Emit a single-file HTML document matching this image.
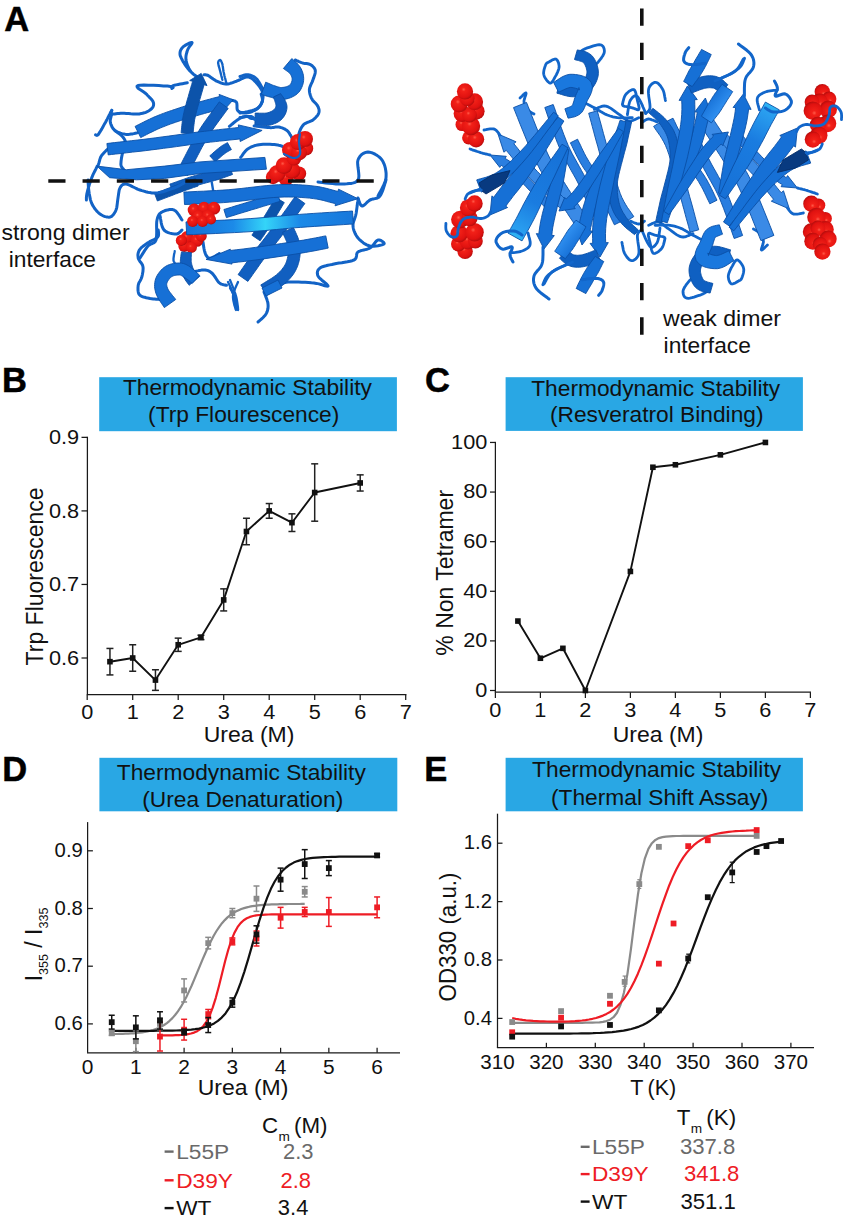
<!DOCTYPE html>
<html><head><meta charset="utf-8"><title>Figure</title>
<style>html,body{margin:0;padding:0;background:#fff;font-family:"Liberation Sans",sans-serif;}svg{display:block}</style></head>
<body>
<svg width="850" height="1221" viewBox="0 0 850 1221" font-family="Liberation Sans, sans-serif">
<rect width="850" height="1221" fill="#fff"/>
<text transform="translate(4.20,30.60) scale(1.0,1)" font-size="34.5" text-anchor="start" fill="#000" font-weight="bold" stroke="#000" stroke-width="0.5">A</text>
<text transform="translate(2.10,392.00) scale(1.0,1)" font-size="34.5" text-anchor="start" fill="#000" font-weight="bold" stroke="#000" stroke-width="0.5">B</text>
<text transform="translate(425.00,392.00) scale(1.0,1)" font-size="34.5" text-anchor="start" fill="#000" font-weight="bold" stroke="#000" stroke-width="0.5">C</text>
<text transform="translate(2.30,780.80) scale(1.0,1)" font-size="34.5" text-anchor="start" fill="#000" font-weight="bold" stroke="#000" stroke-width="0.5">D</text>
<text transform="translate(424.20,780.80) scale(1.0,1)" font-size="34.5" text-anchor="start" fill="#000" font-weight="bold" stroke="#000" stroke-width="0.5">E</text>
<defs>
<radialGradient id="rs" cx="0.42" cy="0.38" r="0.7"><stop offset="0" stop-color="#ff5a48"/><stop offset="0.18" stop-color="#f22018"/><stop offset="0.7" stop-color="#e01210"/><stop offset="1" stop-color="#a00a0a"/></radialGradient>
<linearGradient id="hl" x1="0" x2="1" y1="0" y2="0"><stop offset="0" stop-color="#1473d8"/><stop offset="0.25" stop-color="#1c8ae8"/><stop offset="0.38" stop-color="#30d0f8"/><stop offset="0.5" stop-color="#1c8ae8"/><stop offset="1" stop-color="#1473d8"/></linearGradient>
<linearGradient id="hl2" gradientUnits="userSpaceOnUse" x1="186" x2="375" y1="0" y2="0"><stop offset="0" stop-color="#1670d6"/><stop offset="0.25" stop-color="#1c8ae8"/><stop offset="0.42" stop-color="#34d4f8"/><stop offset="0.6" stop-color="#1c8ae8"/><stop offset="1" stop-color="#1670d6"/></linearGradient>
<linearGradient id="hl3" gradientUnits="userSpaceOnUse" x1="565" x2="512" y1="146" y2="240"><stop offset="0" stop-color="#1670d6"/><stop offset="0.6" stop-color="#1a7ce0"/><stop offset="0.9" stop-color="#2aa0f0"/><stop offset="1" stop-color="#34c8f8"/></linearGradient>
<linearGradient id="cyl" x1="0" x2="1" y1="0" y2="1"><stop offset="0" stop-color="#1670d6"/><stop offset="0.35" stop-color="#2f8ff0"/><stop offset="0.7" stop-color="#1670d6"/><stop offset="1" stop-color="#0f5cba"/></linearGradient>
</defs>
<path d="M200.0 79.0 L199.3 78.5 L198.3 77.8 L197.2 77.0 L195.9 76.1 L194.6 75.1 L193.3 74.1 L192.1 73.0 L191.0 72.0 L190.0 71.0 L189.0 69.9 L188.1 68.8 L187.2 67.6 L186.3 66.5 L185.5 65.3 L184.7 64.1 L184.0 63.0 L183.3 61.9 L182.6 60.7 L182.0 59.5 L181.4 58.4 L180.9 57.2 L180.4 56.1 L180.1 55.0 L180.0 54.0 L180.0 53.0 L180.1 52.1 L180.3 51.1 L180.7 50.2 L181.1 49.4 L181.7 48.5 L182.3 47.7 L183.0 47.0 L183.9 46.2 L185.1 45.4 L186.5 44.6 L188.0 43.8 L189.3 43.1 L190.6 42.6 L191.5 42.4 L192.0 42.4 L192.1 42.7 L191.8 43.4 L191.2 44.3 L190.5 45.3 L189.6 46.4 L188.8 47.6 L188.1 48.9 L187.6 50.0 L187.2 51.1 L186.9 52.3 L186.5 53.5 L186.2 54.8 L186.0 56.1 L185.9 57.4 L185.9 58.7 L186.0 60.0 L186.2 61.4 L186.6 62.8 L187.1 64.2 L187.6 65.7 L188.3 67.2 L188.9 68.5 L189.7 69.8 L190.4 71.0 L191.2 72.1 L192.3 73.1 L193.3 74.1 L194.5 75.0 L195.6 75.8 L196.6 76.5 L197.4 77.1 L198.0 77.6" fill="none" stroke="#1263c6" stroke-width="3.0" stroke-linecap="round" stroke-linejoin="round"/>
<path d="M222.4 79.8 L222.2 79.1 L222.0 78.2 L221.7 77.2 L221.4 76.1 L221.1 74.8 L220.8 73.6 L220.5 72.4 L220.2 71.3 L219.9 70.2 L219.6 69.0 L219.3 67.9 L218.9 66.7 L218.6 65.6 L218.4 64.5 L218.2 63.6 L218.1 62.8 L218.2 62.2 L218.4 61.6 L218.6 61.0 L218.9 60.6 L219.3 60.3 L219.6 60.1 L219.9 60.0 L220.2 60.0 L220.5 60.2 L220.8 60.5 L221.1 60.9 L221.3 61.4 L221.6 62.0 L221.9 62.7 L222.1 63.5 L222.4 64.2 L222.6 65.1 L222.7 66.0 L222.9 67.0 L223.0 68.0 L223.2 69.1 L223.3 70.3 L223.5 71.5 L223.8 72.7 L224.1 74.1 L224.4 75.6 L224.8 77.2 L225.3 78.9 L225.7 80.5 L226.0 81.9 L226.4 83.1 L226.6 84.0" fill="none" stroke="#1263c6" stroke-width="2.3" stroke-linecap="round" stroke-linejoin="round"/>
<path d="M204.0 74.8 L204.3 74.8 L204.7 74.8 L205.1 74.8 L205.6 74.8 L206.2 74.9 L206.8 75.0 L207.5 75.2 L208.2 75.5 L209.1 76.0 L210.0 76.7 L211.0 77.4 L212.1 78.2 L213.2 79.0 L214.4 79.8 L215.6 80.6 L216.7 81.2 L217.9 81.7 L219.1 82.2 L220.3 82.7 L221.6 83.1 L222.8 83.5 L224.1 83.8 L225.3 83.9 L226.6 84.0 L227.8 83.9 L229.0 83.7 L230.2 83.4 L231.4 83.0 L232.7 82.6 L233.9 82.1 L235.2 81.6 L236.5 81.2 L237.8 80.6 L239.3 80.0 L240.7 79.3 L242.2 78.5 L243.7 77.9 L245.1 77.3 L246.5 77.0 L247.8 76.9 L249.0 77.1 L250.1 77.6 L251.2 78.1 L252.3 78.9 L253.3 79.7 L254.3 80.6 L255.3 81.6 L256.2 82.6 L257.2 83.6 L258.1 84.8 L259.1 86.0 L260.0 87.3 L260.8 88.6 L261.5 89.9 L262.2 91.2 L262.6 92.5 L262.9 93.7 L263.0 95.0 L263.1 96.3 L263.0 97.6 L262.8 98.9 L262.6 100.1 L262.3 101.3 L261.9 102.4 L261.4 103.4 L260.9 104.4 L260.3 105.4 L259.6 106.3 L258.9 107.1 L258.1 108.0 L257.2 108.7 L256.2 109.4 L255.2 110.1 L254.0 110.7 L252.8 111.2 L251.5 111.8 L250.1 112.2 L248.8 112.5 L247.6 112.8 L246.4 112.9 L245.2 113.0 L244.0 113.0 L242.8 112.8 L241.6 112.6 L240.5 112.3 L239.5 111.9 L238.6 111.4 L237.9 110.8 L237.4 110.0 L237.1 109.0 L237.0 107.8 L237.0 106.6 L237.0 105.3 L236.9 104.2 L236.8 103.2 L236.5 102.4 L236.0 101.8 L235.4 101.3 L234.7 101.0 L233.9 100.8 L233.2 100.6 L232.5 100.5 L231.9 100.4 L231.5 100.2" fill="none" stroke="#1263c6" stroke-width="3.0" stroke-linecap="round" stroke-linejoin="round"/>
<path d="M187.3 82.8 L186.1 83.0 L184.5 83.3 L182.5 83.7 L180.3 84.1 L178.2 84.5 L176.1 84.9 L174.4 85.3 L173.2 85.6 L172.4 86.0 L171.9 86.5 L171.7 86.9 L171.7 87.4 L171.7 87.8 L171.8 88.1 L171.9 88.4 L171.8 88.5 L171.8 88.4 L172.1 88.3 L172.6 88.0 L173.0 87.6 L173.2 87.3 L172.9 86.9 L172.0 86.6 L170.4 86.4 L167.5 86.1 L163.5 85.9 L158.7 85.6 L153.5 85.3 L148.4 85.2 L143.9 85.1 L140.2 85.3 L137.9 85.6 L137.0 86.3 L137.2 87.1 L138.1 88.2 L139.6 89.3 L141.5 90.5 L143.4 91.8 L145.1 93.0 L146.4 94.1 L147.4 95.2 L148.5 96.3 L149.5 97.4 L150.6 98.4 L151.6 99.5 L152.4 100.6 L153.0 101.6 L153.4 102.6 L153.6 103.6 L153.6 104.5 L153.5 105.5 L153.2 106.4 L152.7 107.3 L152.1 108.1 L151.4 108.9 L150.6 109.6 L149.6 110.3 L148.5 111.0 L147.2 111.7 L145.8 112.3 L144.3 112.8 L142.7 113.2 L141.0 113.6 L139.3 113.9 L137.4 114.0 L135.3 114.0 L133.1 113.9 L130.8 113.8 L128.5 113.6 L126.3 113.4 L124.2 113.2 L122.4 113.2 L120.7 113.2 L119.0 113.4 L117.5 113.5 L116.0 113.7 L114.7 113.9 L113.5 114.0 L112.5 114.0 L111.8 113.9 L111.3 113.6 L111.0 113.2 L111.0 112.7 L111.1 112.2 L111.3 111.6 L111.5 111.1 L111.7 110.7 L111.8 110.4" fill="none" stroke="#1263c6" stroke-width="3.0" stroke-linecap="round" stroke-linejoin="round"/>
<path d="M111.8 110.4 L111.3 111.3 L110.6 112.5 L109.9 114.0 L109.0 115.6 L108.1 117.3 L107.2 119.1 L106.3 120.8 L105.4 122.4 L104.5 123.9 L103.6 125.6 L102.6 127.4 L101.7 129.1 L100.7 130.7 L99.8 132.2 L99.0 133.4 L98.4 134.4 L97.8 135.0 L97.3 135.3 L96.9 135.4 L96.5 135.3 L96.2 135.2 L95.9 135.0 L95.7 134.8 L95.5 134.8" fill="none" stroke="#1263c6" stroke-width="3.0" stroke-linecap="round" stroke-linejoin="round"/>
<path d="M111.8 113.9 L111.6 114.5 L111.4 115.4 L111.1 116.4 L110.8 117.6 L110.5 118.8 L110.3 120.0 L110.2 121.2 L110.4 122.4 L110.6 123.4 L111.0 124.6 L111.5 125.7 L112.0 126.9 L112.7 128.0 L113.5 129.1 L114.3 130.0 L115.3 130.8 L116.4 131.5 L117.7 132.2 L119.1 132.7 L120.6 133.2 L122.1 133.6 L123.7 133.9 L125.2 134.2 L126.6 134.4 L128.0 134.4 L129.5 134.3 L131.1 134.1 L132.6 133.9 L134.0 133.6 L135.3 133.3 L136.4 133.1 L137.2 132.9" fill="none" stroke="#1263c6" stroke-width="3.0" stroke-linecap="round" stroke-linejoin="round"/>
<path d="M115.3 130.8 L115.9 131.3 L116.6 131.8 L117.6 132.5 L118.6 133.3 L119.7 134.1 L120.7 134.9 L121.6 135.7 L122.4 136.5 L123.0 137.2 L123.6 138.0 L124.1 138.8 L124.6 139.6 L125.0 140.4 L125.3 141.1 L125.6 141.7 L125.9 142.1" fill="none" stroke="#1263c6" stroke-width="3.0" stroke-linecap="round" stroke-linejoin="round"/>
<path d="M125.2 142.1 L125.0 143.0 L124.6 144.2 L124.3 145.5 L123.9 147.1 L123.4 148.7 L123.0 150.3 L122.7 151.9 L122.4 153.4 L122.1 154.9 L121.8 156.4 L121.5 157.9 L121.3 159.5 L121.1 160.9 L121.0 162.3 L120.9 163.6 L120.9 164.7 L121.1 165.7 L121.4 166.5 L121.8 167.2 L122.3 167.9 L122.7 168.4 L123.2 168.9 L123.5 169.3 L123.8 169.7" fill="none" stroke="#1263c6" stroke-width="3.0" stroke-linecap="round" stroke-linejoin="round"/>
<path d="M107.5 149.2 L107.0 149.7 L106.3 150.4 L105.5 151.2 L104.5 152.2 L103.6 153.2 L102.7 154.2 L101.8 155.2 L101.2 156.2 L100.6 157.3 L100.2 158.4 L99.8 159.6 L99.5 160.8 L99.2 161.9 L98.9 163.0 L98.6 163.9 L98.4 164.7 L98.1 165.2 L98.0 165.5 L97.9 165.5 L97.8 165.5 L97.7 165.6 L97.6 165.8 L97.3 166.1 L96.9 166.8 L96.4 167.8 L95.8 169.1 L95.1 170.5 L94.3 172.1 L93.5 173.7 L92.7 175.4 L92.0 177.2 L91.3 178.8 L90.7 180.5 L90.1 182.4 L89.4 184.3 L88.9 186.2 L88.3 188.1 L87.8 189.9 L87.4 191.5 L87.1 192.9 L86.8 194.2 L86.6 195.4 L86.5 196.4 L86.4 197.4 L86.4 198.2 L86.4 198.9 L86.4 199.5 L86.4 200.0" fill="none" stroke="#1263c6" stroke-width="3.0" stroke-linecap="round" stroke-linejoin="round"/>
<path d="M240.0 76.5 L240.6 76.3 L241.5 76.0 L242.5 75.7 L243.6 75.3 L244.8 75.0 L246.0 74.8 L247.1 74.7 L248.2 74.7 L249.3 74.9 L250.3 75.2 L251.4 75.6 L252.5 76.1 L253.6 76.6 L254.6 77.3 L255.6 78.0 L256.5 78.8 L257.4 79.8 L258.2 81.0 L259.1 82.4 L259.9 83.8 L260.7 85.2 L261.4 86.4 L261.9 87.5 L262.4 88.2" fill="none" stroke="#1263c6" stroke-width="3.0" stroke-linecap="round" stroke-linejoin="round"/>
<path d="M261.2 94.1 L261.3 94.7 L261.5 95.4 L261.8 96.2 L262.1 97.2 L262.3 98.2 L262.4 99.2 L262.5 100.2 L262.4 101.2 L262.1 102.1 L261.7 103.0 L261.3 104.0 L260.7 104.9 L260.1 105.8 L259.4 106.7 L258.6 107.5 L257.6 108.2 L256.6 108.9 L255.3 109.4 L254.0 109.9 L252.5 110.4 L251.0 110.8 L249.6 111.1 L248.3 111.5 L247.1 111.8 L246.0 112.0 L244.9 112.3 L243.8 112.4 L242.9 112.6 L242.0 112.7 L241.2 112.8 L240.5 112.9 L240.0 112.9" fill="none" stroke="#1263c6" stroke-width="3.0" stroke-linecap="round" stroke-linejoin="round"/>
<path d="M240.0 117.6 L240.6 117.5 L241.4 117.4 L242.3 117.2 L243.3 116.9 L244.4 116.7 L245.4 116.6 L246.3 116.5 L247.1 116.5 L247.7 116.6 L248.2 116.7 L248.6 117.0 L249.0 117.2 L249.4 117.5 L249.7 117.8 L250.1 118.1 L250.6 118.2 L251.1 118.4 L251.7 118.5 L252.3 118.6 L252.9 118.6 L253.4 118.7 L254.0 118.7 L254.4 118.8 L254.7 118.8" fill="none" stroke="#1263c6" stroke-width="3.0" stroke-linecap="round" stroke-linejoin="round"/>
<polygon points="140.7,137.6 142.2,136.8 144.2,135.8 146.6,134.6 149.2,133.2 152.0,131.9 154.8,130.5 157.6,129.2 160.1,128.1 162.6,127.1 165.1,126.1 167.7,125.1 170.3,124.1 172.9,123.2 175.5,122.3 178.2,121.4 180.8,120.5 183.4,119.7 186.0,118.9 188.6,118.1 191.2,117.3 193.8,116.5 196.4,115.8 199.1,115.0 201.7,114.3 204.4,113.5 207.2,112.7 210.0,112.0 212.8,111.2 215.5,110.5 218.1,109.8 220.5,109.2 222.7,108.6 223.3,110.8 233.2,99.8 219.1,94.4 219.6,96.5 217.4,97.1 215.0,97.7 212.3,98.4 209.6,99.2 206.7,99.9 203.9,100.7 201.0,101.5 198.3,102.2 195.6,103.0 193.0,103.7 190.3,104.5 187.6,105.3 185.0,106.1 182.3,106.9 179.6,107.8 176.9,108.7 174.2,109.6 171.5,110.5 168.8,111.4 166.0,112.4 163.3,113.4 160.6,114.4 157.9,115.5 155.2,116.6 152.4,117.8 149.5,119.2 146.5,120.6 143.7,122.0 141.0,123.4 138.6,124.6 136.6,125.6 135.1,126.4" fill="#1670d6" stroke="#0a4fa6" stroke-width="0.9" stroke-linejoin="round"/>
<polygon points="187.8,175.4 188.5,173.9 189.5,171.9 190.6,169.5 191.9,166.9 193.3,164.1 194.7,161.3 196.2,158.5 197.6,155.7 199.0,153.1 200.4,150.4 201.9,147.6 203.4,144.9 204.9,142.1 206.5,139.3 208.2,136.5 210.0,133.6 212.1,130.5 214.5,127.0 217.1,123.4 219.8,119.7 222.4,116.3 224.7,113.1 226.7,110.4 228.2,108.4 219.3,101.9 217.9,103.9 215.9,106.5 213.6,109.7 211.0,113.2 208.2,116.9 205.5,120.7 203.0,124.3 200.8,127.6 198.9,130.7 197.0,133.7 195.3,136.7 193.7,139.6 192.2,142.4 190.7,145.2 189.3,147.9 187.8,150.6 186.4,153.4 184.9,156.3 183.4,159.2 182.0,162.0 180.7,164.7 179.6,167.0 178.6,169.0 177.9,170.5" fill="#115fc0" stroke="#0a4fa6" stroke-width="0.9" stroke-linejoin="round"/>
<polygon points="193.0,134.1 193.2,132.7 193.3,131.0 193.5,129.1 193.7,126.9 194.0,124.6 194.3,122.2 194.6,119.9 195.1,117.7 195.6,115.4 196.1,113.0 196.8,110.4 197.5,107.8 198.3,105.1 199.0,102.4 199.8,99.6 200.6,96.9 201.4,94.1 202.3,91.0 203.2,87.9 204.1,84.7 207.0,85.6 201.2,73.4 189.7,80.5 192.6,81.3 191.7,84.5 190.7,87.7 189.9,90.8 189.0,93.7 188.3,96.4 187.5,99.1 186.7,101.8 186.0,104.6 185.2,107.3 184.5,110.0 183.9,112.7 183.3,115.3 182.8,117.9 182.4,120.6 182.1,123.2 181.8,125.6 181.6,127.9 181.4,129.9 181.2,131.5 181.1,132.8" fill="#0c53aa" stroke="#0a4fa6" stroke-width="0.9" stroke-linejoin="round"/>
<polygon points="215.1,161.8 215.9,161.1 217.0,160.2 218.2,159.1 219.6,157.9 221.0,156.6 222.4,155.4 223.7,154.4 224.8,153.6 225.7,152.9 226.6,152.3 227.6,151.7 228.5,151.2 229.3,150.7 230.1,150.3 230.8,149.9 231.4,149.6 227.4,142.6 227.0,142.9 226.3,143.3 225.5,143.7 224.5,144.2 223.5,144.8 222.3,145.5 221.2,146.3 220.0,147.2 218.7,148.2 217.3,149.3 215.8,150.6 214.3,151.8 212.9,153.1 211.7,154.2 210.6,155.1 209.8,155.8" fill="#115fc0" stroke="#0a4fa6" stroke-width="0.9" stroke-linejoin="round"/>
<polygon points="108.2,154.9 111.4,154.5 115.8,154.0 120.9,153.5 126.6,152.8 132.7,152.1 139.0,151.4 145.3,150.7 151.3,149.9 157.3,149.2 163.6,148.3 170.1,147.5 176.6,146.6 183.0,145.7 189.3,144.8 195.2,144.0 200.7,143.3 205.8,142.7 210.7,142.1 215.3,141.6 219.7,141.1 223.9,140.7 228.0,140.2 232.0,139.8 236.0,139.4 239.9,138.9 240.2,141.5 262.1,130.4 238.3,124.9 238.6,127.5 234.6,127.9 230.8,128.4 226.8,128.8 222.7,129.2 218.5,129.7 214.0,130.2 209.4,130.7 204.5,131.3 199.3,131.9 193.7,132.6 187.7,133.4 181.4,134.3 175.0,135.2 168.5,136.1 162.1,136.9 155.8,137.8 149.9,138.5 143.9,139.3 137.7,140.0 131.4,140.7 125.3,141.4 119.6,142.0 114.5,142.6 110.2,143.1 106.9,143.5" fill="#1670d6" stroke="#0a4fa6" stroke-width="0.9" stroke-linejoin="round"/>
<polygon points="173.2,193.5 174.9,192.9 177.3,192.1 180.1,191.1 183.2,190.0 186.4,188.9 189.6,187.8 192.8,186.7 195.6,185.8 198.3,185.0 201.0,184.3 203.7,183.5 206.4,182.8 209.1,182.1 211.8,181.4 214.3,180.6 216.8,179.9 219.2,179.2 221.5,178.4 223.9,177.6 226.1,176.8 228.1,176.1 229.9,175.4 231.4,174.9 232.5,174.5 229.2,165.1 228.0,165.5 226.5,166.0 224.7,166.7 222.7,167.4 220.6,168.1 218.3,168.9 216.1,169.6 213.8,170.4 211.5,171.0 209.1,171.7 206.5,172.4 203.9,173.1 201.1,173.9 198.3,174.6 195.5,175.4 192.6,176.3 189.6,177.2 186.4,178.3 183.1,179.5 179.8,180.6 176.7,181.7 174.0,182.7 171.6,183.5 169.9,184.1" fill="#115fc0" stroke="#0a4fa6" stroke-width="0.9" stroke-linejoin="round"/>
<polygon points="157.4,201.0 159.3,200.3 161.9,199.3 165.0,198.1 168.4,196.8 171.9,195.5 175.4,194.1 178.6,192.9 181.4,191.9 183.9,190.9 186.5,190.0 188.9,189.2 191.3,188.4 193.4,187.6 195.4,187.0 197.0,186.4 198.2,186.0 195.6,178.4 194.4,178.8 192.8,179.4 190.8,180.1 188.7,180.8 186.3,181.6 183.8,182.5 181.2,183.4 178.6,184.4 175.8,185.4 172.5,186.7 169.0,188.0 165.5,189.3 162.1,190.7 159.0,191.8 156.5,192.8 154.6,193.6" fill="#0c53aa" stroke="#0a4fa6" stroke-width="0.9" stroke-linejoin="round"/>
<path d="M211.8 182.5 L213.2 190.9" fill="none" stroke="#1263c6" stroke-width="2.4" stroke-linecap="round" stroke-linejoin="round"/>
<polygon points="96.9,166.1 126.6,169.7 164.7,166.1 200.0,161.9 264.9,157.4 266.4,169.2 200.0,173.5 164.7,178.4 136.5,179.8 109.6,177.7" fill="#1670d6" stroke="#0a4fa6" stroke-width="0.9" stroke-linejoin="round"/>
<polygon points="283.4,68.5 284.2,69.1 285.2,69.8 286.2,70.5 287.3,71.3 288.3,72.1 289.2,72.8 289.9,73.4 290.3,73.9 290.6,74.5 291.0,75.2 291.4,76.0 291.7,76.8 291.9,77.5 292.1,78.3 292.1,78.9 292.1,79.5 292.1,80.2 291.9,81.0 291.6,81.9 291.3,82.7 290.9,83.5 290.5,84.2 290.1,84.7 289.8,85.1 289.3,85.4 288.5,85.8 287.5,86.3 286.4,86.7 285.2,87.0 284.0,87.3 282.9,87.4 281.9,87.5 281.2,87.6 280.5,87.5 279.6,87.3 278.5,87.0 277.3,86.7 276.1,86.3 274.8,85.8 273.5,85.4 272.4,85.0 271.4,84.5 270.3,84.1 269.2,83.6 268.2,83.2 267.3,82.8 266.4,82.4 265.8,82.1 261.3,94.3 261.8,94.5 262.6,94.8 263.6,95.1 264.8,95.5 266.0,95.9 267.3,96.3 268.7,96.7 270.0,97.0 271.2,97.3 272.4,97.7 273.7,98.1 275.2,98.6 276.9,99.0 278.7,99.3 280.7,99.5 282.8,99.5 284.7,99.3 286.5,98.9 288.4,98.4 290.3,97.8 292.1,97.0 293.9,96.1 295.7,95.0 297.3,93.7 298.8,92.3 300.0,90.7 301.0,89.0 301.8,87.3 302.5,85.6 303.0,83.9 303.4,82.2 303.6,80.5 303.7,78.7 303.6,76.9 303.4,75.2 303.0,73.5 302.5,71.9 301.9,70.3 301.2,68.8 300.3,67.3 299.2,65.7 297.9,64.2 296.6,62.8 295.3,61.6 294.1,60.6 293.1,59.7 292.3,59.0 291.8,58.6" fill="#1670d6" stroke="#0a4fa6" stroke-width="0.9" stroke-linejoin="round"/>
<polygon points="273.4,97.0 273.8,98.0 274.2,99.2 274.7,100.6 275.2,102.1 275.6,103.5 275.9,104.8 276.0,105.8 275.9,106.3 275.8,106.6 275.7,107.1 275.4,107.7 275.2,108.2 274.8,108.7 274.4,109.2 274.0,109.6 273.6,110.0 273.1,110.3 272.5,110.7 271.8,111.2 270.9,111.6 270.0,112.0 269.0,112.4 268.0,112.7 267.1,112.9 266.1,113.1 264.7,113.2 263.0,113.2 261.3,113.2 259.5,113.2 257.9,113.1 256.4,113.1 255.2,113.1 254.9,125.1 255.8,125.1 257.2,125.2 258.9,125.3 260.8,125.5 262.9,125.6 265.1,125.6 267.3,125.5 269.4,125.2 271.3,124.8 273.0,124.2 274.7,123.6 276.4,122.9 278.0,122.0 279.5,121.1 280.9,120.0 282.2,118.7 283.3,117.4 284.3,115.9 285.2,114.4 285.9,112.8 286.4,111.1 286.8,109.3 287.0,107.5 286.9,105.5 286.4,103.4 285.6,101.4 284.7,99.7 283.7,98.0 282.7,96.5 281.8,95.3 281.1,94.3 280.7,93.6" fill="#115fc0" stroke="#0a4fa6" stroke-width="0.9" stroke-linejoin="round"/>
<path d="M295.3 60.0 L295.8 60.2 L296.5 60.6 L297.4 60.9 L298.3 61.4 L299.3 61.8 L300.3 62.2 L301.4 62.6 L302.4 62.9 L303.4 63.2 L304.4 63.4 L305.5 63.5 L306.6 63.6 L307.7 63.8 L308.8 64.0 L309.7 64.3 L310.6 64.7 L311.4 65.2 L312.2 65.8 L312.9 66.5 L313.6 67.2 L314.2 67.9 L314.7 68.8 L315.1 69.7 L315.3 70.6 L315.3 71.6 L315.2 72.7 L315.0 73.9 L314.6 75.1 L314.2 76.3 L313.8 77.6 L313.3 78.8 L312.9 80.0 L312.5 81.2 L312.0 82.4 L311.4 83.5 L310.9 84.7 L310.4 85.9 L309.9 87.1 L309.6 88.2 L309.4 89.4 L309.4 90.6 L309.5 91.8 L309.7 93.0 L310.0 94.3 L310.4 95.5 L310.8 96.6 L311.3 97.8 L311.8 98.8 L312.4 99.8 L313.1 100.8 L313.9 101.6 L314.8 102.5 L315.6 103.3 L316.4 104.2 L317.1 105.0 L317.6 105.9 L318.1 106.8 L318.4 107.6 L318.7 108.5 L319.0 109.4 L319.1 110.3 L319.1 111.2 L319.0 112.1 L318.8 112.9 L318.5 113.8 L317.9 114.8 L317.3 115.7 L316.5 116.6 L315.7 117.5 L314.8 118.4 L313.9 119.2 L312.9 120.0 L311.9 120.7 L310.7 121.2 L309.5 121.7 L308.2 122.2 L306.9 122.7 L305.6 123.3 L304.5 123.9 L303.5 124.7 L302.7 125.7 L301.9 126.8 L301.2 128.0 L300.5 129.3 L300.0 130.6 L299.5 131.9 L299.1 133.1 L298.8 134.1 L298.7 135.0 L298.8 135.8 L298.9 136.4 L299.2 137.1 L299.5 137.7 L299.7 138.4 L299.9 139.1 L300.0 140.0 L300.0 141.1 L299.8 142.3 L299.7 143.7 L299.5 145.1 L299.3 146.4 L299.1 147.6 L298.9 148.7 L298.8 149.4" fill="none" stroke="#1263c6" stroke-width="3.0" stroke-linecap="round" stroke-linejoin="round"/>
<path d="M254.1 125.9 L255.3 126.0 L257.0 126.3 L259.0 126.5 L261.2 126.8 L263.4 127.1 L265.6 127.3 L267.7 127.5 L269.4 127.6 L270.9 127.7 L272.2 127.6 L273.4 127.4 L274.6 127.2 L275.6 127.1 L276.7 127.0 L277.7 127.0 L278.8 127.1 L279.9 127.3 L281.0 127.6 L282.2 127.9 L283.2 128.3 L284.3 128.8 L285.3 129.4 L286.2 130.0 L287.1 130.6 L287.8 131.3 L288.5 132.1 L289.1 132.9 L289.7 133.8 L290.2 134.8 L290.8 135.7 L291.3 136.7 L291.8 137.6 L292.3 138.7 L292.8 139.8 L293.3 141.0 L293.8 142.2 L294.3 143.3 L294.7 144.4 L295.0 145.2 L295.3 145.9" fill="none" stroke="#1263c6" stroke-width="3.0" stroke-linecap="round" stroke-linejoin="round"/>
<path d="M229.4 126.4 L230.3 125.7 L231.5 124.7 L232.9 123.5 L234.4 122.2 L236.1 120.9 L237.7 119.7 L239.3 118.7 L240.7 117.9 L242.1 117.3 L243.4 116.9 L244.8 116.7 L246.1 116.5 L247.4 116.4 L248.6 116.4 L249.6 116.4 L250.6 116.5 L251.4 116.6 L252.1 116.9 L252.8 117.3 L253.3 117.8 L253.8 118.3 L254.2 118.7 L254.5 119.1 L254.8 119.3" fill="none" stroke="#1263c6" stroke-width="3.0" stroke-linecap="round" stroke-linejoin="round"/>
<path d="M240.7 157.4 L241.2 156.7 L241.9 155.8 L242.7 154.7 L243.5 153.4 L244.5 152.2 L245.5 151.0 L246.6 149.9 L247.8 148.9 L248.9 148.2 L250.2 147.5 L251.4 146.9 L252.8 146.3 L254.2 145.8 L255.7 145.4 L257.4 145.0 L259.1 144.7 L261.0 144.5 L263.1 144.3 L265.4 144.3 L267.7 144.3 L270.0 144.3 L272.2 144.4 L274.3 144.5 L276.0 144.7 L277.5 144.9 L278.8 145.2 L279.9 145.4 L280.9 145.8 L281.9 146.1 L282.8 146.6 L283.6 147.0 L284.5 147.5 L285.4 148.1 L286.2 148.9 L287.0 149.7 L287.8 150.5 L288.5 151.4 L289.2 152.1 L289.7 152.7 L290.1 153.2" fill="none" stroke="#1263c6" stroke-width="3.0" stroke-linecap="round" stroke-linejoin="round"/>
<path d="M318.0 182.0 L319.9 182.2 L322.5 182.5 L325.6 182.9 L329.0 183.2 L332.5 183.6 L336.0 183.9 L339.2 184.0 L342.0 184.0 L344.5 183.9 L346.9 183.8 L349.3 183.6 L351.5 183.4 L353.5 182.9 L355.3 182.3 L356.8 181.3 L358.0 180.0 L358.7 178.2 L358.9 175.8 L358.7 173.1 L358.4 170.2 L358.0 167.3 L357.7 164.5 L357.6 162.0 L358.0 160.0 L358.7 158.3 L359.7 156.8 L360.8 155.4 L362.1 154.2 L363.5 153.3 L365.0 152.6 L366.5 152.2 L368.0 152.0 L369.6 152.2 L371.5 152.6 L373.4 153.4 L375.4 154.4 L377.3 155.6 L379.1 156.9 L380.7 158.4 L382.0 160.0 L383.1 161.8 L384.0 163.8 L384.8 166.0 L385.4 168.4 L385.8 170.8 L386.1 173.3 L386.1 175.7 L386.0 178.0 L385.5 180.4 L384.7 182.9 L383.5 185.5 L382.2 188.1 L380.9 190.6 L379.7 192.8 L378.7 194.6 L378.0 196.0" fill="none" stroke="#1263c6" stroke-width="3.0" stroke-linecap="round" stroke-linejoin="round"/>
<circle cx="273.0" cy="177.0" r="7.2" fill="url(#rs)"/>
<circle cx="286.0" cy="178.4" r="7.6" fill="url(#rs)"/>
<circle cx="299.0" cy="173.6" r="7.2" fill="url(#rs)"/>
<circle cx="277.0" cy="173.6" r="8.4" fill="url(#rs)"/>
<circle cx="292.0" cy="170.4" r="8.4" fill="url(#rs)"/>
<circle cx="284.0" cy="165.6" r="8.4" fill="url(#rs)"/>
<circle cx="294.0" cy="158.4" r="7.2" fill="url(#rs)"/>
<circle cx="290.0" cy="150.0" r="8.0" fill="url(#rs)"/>
<circle cx="306.0" cy="148.4" r="7.2" fill="url(#rs)"/>
<circle cx="299.0" cy="152.4" r="8.0" fill="url(#rs)"/>
<circle cx="298.0" cy="142.0" r="8.0" fill="url(#rs)"/>
<circle cx="305.0" cy="139.0" r="8.0" fill="url(#rs)"/>
<path d="M300.0 134.0 L299.9 134.6 L299.8 135.3 L299.6 136.2 L299.4 137.2 L299.3 138.4 L299.1 139.5 L299.0 140.8 L299.0 142.0 L299.1 143.4 L299.3 144.9 L299.5 146.6 L299.8 148.2 L300.0 149.9 L300.2 151.5 L300.2 152.9 L300.0 154.0 L299.6 154.9 L299.1 155.8 L298.4 156.4 L297.7 157.0 L296.9 157.4 L295.9 157.8 L295.0 157.9 L294.0 158.0 L292.9 157.9 L291.5 157.5 L290.1 156.9 L288.6 156.2 L287.2 155.6 L285.9 154.9 L284.8 154.4 L284.0 154.0" fill="none" stroke="#1263c6" stroke-width="2.2" stroke-linecap="round" stroke-linejoin="round"/>
<path d="M88.0 180.0 L88.1 180.9 L88.1 182.2 L88.2 183.6 L88.3 185.2 L88.4 187.0 L88.6 188.7 L88.8 190.4 L89.0 192.0 L89.2 193.5 L89.5 195.0 L89.8 196.6 L90.1 198.1 L90.4 199.6 L90.9 201.1 L91.4 202.6 L92.0 204.0 L92.7 205.4 L93.6 206.8 L94.5 208.2 L95.6 209.6 L96.6 210.9 L97.7 212.0 L98.9 213.1 L100.0 214.0 L101.2 214.8 L102.5 215.5 L103.8 216.1 L105.1 216.6 L106.5 216.9 L107.7 217.1 L108.9 217.2 L110.0 217.0 L111.0 216.6 L111.9 216.1 L112.7 215.3 L113.5 214.4 L114.2 213.4 L114.9 212.3 L115.5 211.2 L116.0 210.0 L116.4 208.7 L116.8 207.3 L117.0 205.8 L117.2 204.2 L117.4 202.6 L117.6 201.0 L117.8 199.4 L118.0 198.0 L118.2 196.6 L118.4 195.2 L118.6 193.8 L118.8 192.5 L119.0 191.2 L119.2 190.0 L119.6 188.9 L120.0 188.0 L120.5 187.1 L121.0 186.3 L121.6 185.6 L122.2 185.0 L123.0 184.5 L123.8 184.2 L124.8 184.0 L126.0 184.0 L127.4 184.3 L128.9 184.9 L130.6 185.6 L132.4 186.6 L134.3 187.5 L136.2 188.5 L138.1 189.3 L140.0 190.0 L141.9 190.6 L143.8 191.1 L145.8 191.7 L147.8 192.2 L149.8 192.6 L151.8 192.9 L153.9 193.0 L156.0 193.0 L158.2 192.8 L160.5 192.3 L163.0 191.7 L165.4 191.0 L167.7 190.2 L170.0 189.4 L172.1 188.7 L174.0 188.0 L175.7 187.3 L177.3 186.6 L178.8 185.9 L180.1 185.2 L181.3 184.5 L182.4 183.9 L183.3 183.4 L184.0 183.0" fill="none" stroke="#1263c6" stroke-width="3.0" stroke-linecap="round" stroke-linejoin="round"/>
<path d="M140.0 258.0 L140.6 257.0 L141.4 255.7 L142.4 254.1 L143.5 252.4 L144.6 250.6 L145.8 248.9 L146.9 247.3 L148.0 246.0 L149.0 245.1 L150.2 244.4 L151.3 243.9 L152.4 243.5 L153.5 243.0 L154.5 242.3 L155.3 241.4 L156.0 240.0 L156.4 238.1 L156.6 235.7 L156.7 233.0 L156.7 230.1 L156.6 227.2 L156.6 224.5 L156.7 222.0 L157.0 220.0 L157.4 218.4 L157.8 217.0 L158.3 215.9 L158.8 214.9 L159.4 214.0 L160.2 213.3 L161.0 212.6 L162.0 212.0 L163.2 211.4 L164.6 210.8 L166.2 210.3 L167.8 209.9 L169.5 209.6 L171.1 209.5 L172.6 209.6 L174.0 210.0 L175.2 210.7 L176.5 211.9 L177.6 213.3 L178.8 214.9 L179.8 216.5 L180.7 217.9 L181.4 219.1 L182.0 220.0" fill="none" stroke="#1263c6" stroke-width="3.0" stroke-linecap="round" stroke-linejoin="round"/>
<path d="M160.0 216.0 L160.3 217.1 L160.5 218.8 L160.9 220.7 L161.2 222.8 L161.7 224.9 L162.3 226.9 L163.1 228.6 L164.0 230.0 L165.2 231.0 L166.6 231.9 L168.2 232.6 L169.9 233.1 L171.6 233.5 L173.2 233.8 L174.7 234.0 L176.0 234.0 L177.1 233.9 L178.1 233.5 L179.0 232.9 L179.8 232.2 L180.5 231.6 L181.1 230.9 L181.6 230.4 L182.0 230.0" fill="none" stroke="#1263c6" stroke-width="3.0" stroke-linecap="round" stroke-linejoin="round"/>
<path d="M158.2 230.0 L158.3 230.6 L158.4 231.3 L158.5 232.2 L158.6 233.2 L158.6 234.2 L158.5 235.2 L158.2 236.2 L157.6 237.1 L156.8 237.8 L155.8 238.6 L154.5 239.3 L153.1 240.0 L151.7 240.7 L150.2 241.4 L148.9 242.2 L147.6 242.9 L146.5 243.8 L145.3 244.6 L144.1 245.5 L143.0 246.3 L141.9 247.2 L140.9 248.1 L140.1 249.1 L139.4 250.0 L138.9 251.0 L138.5 252.0 L138.2 253.0 L138.0 254.0 L137.9 255.1 L138.0 256.1 L138.1 257.2 L138.2 258.2 L138.6 259.2 L139.1 260.2 L139.8 261.2 L140.6 262.2 L141.3 263.2 L142.0 264.2 L142.6 265.3 L142.9 266.5 L143.1 267.7 L143.1 269.0 L143.0 270.4 L142.9 271.8 L142.6 273.2 L142.4 274.5 L142.1 275.8 L141.8 277.1 L141.4 278.2 L140.9 279.3 L140.4 280.3 L139.9 281.2 L139.3 282.2 L138.8 283.2 L138.5 284.2 L138.2 285.3 L138.1 286.5 L138.0 287.7 L138.0 289.0 L138.0 290.3 L138.2 291.6 L138.4 292.7 L138.8 293.8 L139.4 294.7 L140.2 295.4 L141.2 296.1 L142.3 296.6 L143.5 297.0 L144.8 297.3 L146.2 297.7 L147.5 297.9 L148.8 298.2 L150.2 298.5 L151.6 298.7 L153.2 298.9 L154.7 299.0 L156.2 299.2 L157.5 299.3 L158.6 299.3 L159.4 299.4" fill="none" stroke="#1263c6" stroke-width="3.0" stroke-linecap="round" stroke-linejoin="round"/>
<path d="M174.7 251.2 L174.6 251.9 L174.4 253.0 L174.1 254.2 L173.9 255.6 L173.7 257.0 L173.5 258.3 L173.5 259.6 L173.5 260.6 L173.8 261.4 L174.2 262.2 L174.7 262.9 L175.2 263.5 L175.8 264.1 L176.3 264.6 L176.8 265.0 L177.1 265.3" fill="none" stroke="#1263c6" stroke-width="2.3" stroke-linecap="round" stroke-linejoin="round"/>
<path d="M202.9 241.8 L203.1 242.7 L203.3 244.0 L203.5 245.6 L203.8 247.4 L204.1 249.1 L204.5 250.8 L204.9 252.3 L205.3 253.5 L205.7 254.5 L206.2 255.4 L206.7 256.2 L207.2 256.9 L207.8 257.5 L208.4 257.9 L209.2 258.1 L210.0 258.2 L211.0 258.1 L212.2 257.6 L213.6 257.0 L215.0 256.2 L216.4 255.4 L217.6 254.6 L218.7 254.0 L219.4 253.5" fill="none" stroke="#1263c6" stroke-width="3.0" stroke-linecap="round" stroke-linejoin="round"/>
<path d="M195.9 271.2 L196.6 271.1 L197.6 270.9 L198.8 270.6 L200.1 270.4 L201.5 270.1 L202.9 270.0 L204.2 269.9 L205.3 270.0 L206.3 270.2 L207.2 270.4 L208.1 270.7 L209.0 271.1 L209.8 271.6 L210.6 272.1 L211.5 272.8 L212.4 273.5 L213.2 274.5 L214.1 275.6 L215.0 276.9 L215.9 278.3 L216.8 279.7 L217.6 280.9 L218.5 282.1 L219.4 282.9 L220.3 283.6 L221.3 284.1 L222.4 284.4 L223.4 284.7 L224.3 284.9 L225.2 285.0 L225.9 285.2 L226.5 285.3" fill="none" stroke="#1263c6" stroke-width="3.0" stroke-linecap="round" stroke-linejoin="round"/>
<path d="M228.0 282.0 L228.5 283.1 L229.2 284.5 L230.0 286.2 L230.9 288.1 L231.8 290.1 L232.6 292.2 L233.4 294.2 L234.0 296.0 L234.5 297.9 L234.9 300.2 L235.3 302.5 L235.6 304.8 L235.8 306.8 L235.9 308.5 L236.0 309.6 L236.0 310.0 L235.8 309.6 L235.4 308.5 L234.9 306.8 L234.3 304.8 L233.8 302.5 L233.3 300.2 L233.0 297.9 L233.0 296.0 L233.3 294.2 L233.8 292.2 L234.5 290.1 L235.3 288.1 L236.1 286.2 L236.9 284.5 L237.6 283.1 L238.0 282.0" fill="none" stroke="#1263c6" stroke-width="2.3" stroke-linecap="round" stroke-linejoin="round"/>
<path d="M230.0 280.0 L230.5 281.2 L231.2 282.9 L232.0 284.9 L232.9 287.1 L233.8 289.4 L234.6 291.8 L235.4 294.0 L236.0 296.0 L236.5 298.0 L236.9 300.3 L237.3 302.6 L237.6 304.9 L237.9 306.9 L238.0 308.5 L238.1 309.6 L238.0 310.0 L237.8 309.5 L237.4 308.3 L236.9 306.5 L236.4 304.4 L235.8 302.0 L235.1 299.7 L234.5 297.7 L234.0 296.0 L233.5 294.7 L232.9 293.4 L232.3 292.2 L231.8 291.1 L231.2 290.2 L230.7 289.3 L230.3 288.6 L230.0 288.0" fill="none" stroke="#1263c6" stroke-width="2.3" stroke-linecap="round" stroke-linejoin="round"/>
<path d="M358.0 198.0 L358.3 198.7 L358.6 199.8 L359.0 201.0 L359.5 202.4 L360.0 203.7 L360.6 204.8 L361.3 205.6 L362.0 206.0 L362.8 205.9 L363.7 205.4 L364.6 204.7 L365.6 203.8 L366.7 202.7 L367.8 201.7 L368.9 200.8 L370.0 200.0 L371.2 199.5 L372.5 199.1 L373.8 198.9 L375.1 198.6 L376.5 198.3 L377.7 197.8 L378.9 197.1 L380.0 196.0 L381.0 194.5 L381.9 192.5 L382.8 190.2 L383.6 187.8 L384.4 185.4 L385.0 183.2 L385.6 181.3 L386.0 180.0" fill="none" stroke="#1263c6" stroke-width="3.0" stroke-linecap="round" stroke-linejoin="round"/>
<path d="M358.0 199.0 L357.9 200.2 L357.7 201.8 L357.4 203.7 L357.2 205.8 L356.9 207.9 L356.6 210.1 L356.3 212.2 L356.0 214.0 L355.6 215.6 L355.1 217.2 L354.6 218.7 L354.1 220.2 L353.6 221.6 L353.2 223.1 L353.0 224.5 L353.0 226.0 L353.2 227.5 L353.5 229.1 L354.0 230.7 L354.6 232.2 L355.3 233.8 L356.1 235.3 L357.0 236.7 L358.0 238.0 L359.2 239.3 L360.5 240.5 L361.9 241.7 L363.4 242.9 L365.0 243.9 L366.7 244.8 L368.4 245.5 L370.0 246.0 L371.8 246.2 L373.8 246.2 L376.0 246.1 L378.1 245.8 L380.1 245.3 L381.9 244.9 L383.2 244.4 L384.0 244.0 L384.2 243.5 L384.0 242.9 L383.3 242.1 L382.4 241.4 L381.3 240.7 L380.1 240.2 L379.0 239.9 L378.0 240.0 L377.1 240.5 L376.2 241.2 L375.3 242.3 L374.4 243.5 L373.4 244.8 L372.3 246.0 L371.2 247.1 L370.0 248.0 L368.6 248.7 L367.1 249.2 L365.4 249.6 L363.8 250.0 L362.1 250.4 L360.5 250.8 L359.1 251.3 L358.0 252.0 L357.2 252.8 L356.8 253.8 L356.6 254.9 L356.5 256.0 L356.3 257.1 L355.9 258.2 L355.2 259.2 L354.0 260.0 L352.2 260.7 L350.0 261.3 L347.4 261.8 L344.6 262.2 L341.8 262.7 L339.0 263.1 L336.3 263.5 L334.0 264.0 L331.9 264.5 L329.8 264.9 L327.8 265.3 L325.9 265.8 L324.1 266.2 L322.5 266.7 L321.1 267.3 L320.0 268.0 L319.1 268.8 L318.4 269.7 L317.8 270.6 L317.5 271.6 L317.3 272.7 L317.4 273.8 L317.6 274.9 L318.0 276.0 L318.8 277.2 L320.2 278.7 L321.9 280.2 L323.8 281.7 L325.5 283.1 L326.9 284.4 L327.8 285.4 L328.0 286.0 L327.5 286.2 L326.4 286.1 L324.9 285.7 L323.1 285.2 L321.0 284.5 L318.8 283.9 L316.4 283.4 L314.0 283.0 L311.4 282.8 L308.4 282.5 L305.1 282.3 L301.8 282.2 L298.4 282.1 L295.2 282.0 L292.4 282.0 L290.0 282.0 L288.0 282.1 L286.3 282.3 L284.8 282.6 L283.5 282.9 L282.4 283.3 L281.5 283.6 L280.7 283.8 L280.0 284.0" fill="none" stroke="#1263c6" stroke-width="3.0" stroke-linecap="round" stroke-linejoin="round"/>
<path d="M264.0 292.0 L264.3 292.9 L264.9 294.2 L265.5 295.7 L266.1 297.4 L266.8 299.1 L267.3 300.9 L267.8 302.5 L268.0 304.0 L268.1 305.4 L268.1 306.7 L268.0 308.0 L267.8 309.2 L267.5 310.5 L267.1 311.7 L266.6 312.9 L266.0 314.0 L265.2 315.2 L264.2 316.3 L263.1 317.5 L261.9 318.6 L260.7 319.7 L259.6 320.6 L258.7 321.4 L258.0 322.0" fill="none" stroke="#1263c6" stroke-width="3" stroke-linecap="round" stroke-linejoin="round"/>
<polygon points="275.7,197.4 274.8,199.0 273.5,201.1 272.1,203.6 270.5,206.3 268.7,209.2 267.0,212.1 265.3,214.8 263.8,217.3 262.2,219.7 260.5,222.3 258.8,224.9 257.1,227.5 255.5,229.9 254.0,232.0 252.8,233.8 251.9,235.2 260.1,240.8 261.1,239.4 262.3,237.6 263.8,235.5 265.4,233.0 267.1,230.5 268.9,227.8 270.6,225.2 272.2,222.7 273.8,220.1 275.6,217.3 277.3,214.3 279.0,211.4 280.7,208.7 282.1,206.2 283.4,204.1 284.3,202.6" fill="#0c53aa" stroke="#0a4fa6" stroke-width="0.9" stroke-linejoin="round"/>
<polygon points="226.4,217.6 228.4,217.0 230.9,216.2 234.0,215.3 237.4,214.2 241.0,213.1 244.7,212.0 248.3,210.9 251.8,209.8 255.4,208.8 259.3,207.6 263.4,206.3 267.5,205.1 271.4,204.0 274.9,202.9 277.8,202.0 280.0,201.4 277.6,193.2 275.4,193.9 272.5,194.8 269.0,195.8 265.1,197.0 261.0,198.2 256.9,199.4 253.0,200.6 249.4,201.7 245.9,202.8 242.2,203.9 238.5,205.0 234.9,206.1 231.5,207.2 228.4,208.1 225.9,208.9 223.9,209.5" fill="#1670d6" stroke="#0a4fa6" stroke-width="0.9" stroke-linejoin="round"/>
<polygon points="295.1,196.5 293.6,198.7 291.5,201.6 289.1,205.1 286.4,208.9 283.5,212.9 280.6,217.0 277.8,220.9 275.2,224.4 272.7,227.7 270.2,231.0 267.6,234.3 265.1,237.6 262.6,240.8 260.0,244.0 257.6,247.2 255.2,250.4 252.8,253.7 250.3,257.2 247.8,260.7 245.3,264.2 243.1,267.4 241.1,270.3 239.4,272.7 238.1,274.6 247.9,281.4 249.2,279.6 250.9,277.2 252.9,274.3 255.2,271.1 257.6,267.7 260.0,264.2 262.5,260.8 264.8,257.6 267.1,254.5 269.5,251.4 272.0,248.2 274.5,244.9 277.1,241.7 279.7,238.4 282.3,235.0 284.8,231.6 287.5,227.9 290.3,224.0 293.3,219.9 296.1,215.8 298.9,212.0 301.3,208.5 303.4,205.6 304.9,203.5" fill="#115fc0" stroke="#0a4fa6" stroke-width="0.9" stroke-linejoin="round"/>
<polygon points="282.5,232.3 283.0,233.7 283.8,235.4 284.7,237.2 285.6,239.3 286.5,241.3 287.2,243.4 287.8,245.2 288.1,246.8 288.2,248.5 288.2,250.5 288.2,252.5 288.0,254.5 287.8,256.5 287.4,258.4 286.9,260.2 286.4,261.9 285.7,263.5 285.0,265.0 284.1,266.4 283.1,267.8 282.0,269.3 280.8,270.7 279.4,272.1 278.0,273.5 276.3,275.0 274.2,276.5 271.8,278.2 269.2,279.8 266.7,281.3 264.3,282.8 262.3,284.0 260.8,284.9 267.2,295.1 268.6,294.2 270.5,293.0 272.9,291.6 275.6,290.0 278.3,288.2 281.1,286.3 283.7,284.4 286.0,282.5 287.9,280.6 289.7,278.8 291.3,276.9 292.9,274.9 294.3,272.8 295.5,270.7 296.6,268.4 297.6,266.1 298.4,263.6 299.1,261.0 299.6,258.4 300.0,255.8 300.2,253.1 300.2,250.5 300.2,247.8 299.9,245.2 299.4,242.4 298.6,239.6 297.7,237.0 296.6,234.5 295.6,232.2 294.7,230.3 294.0,228.8 293.5,227.7" fill="#115fc0" stroke="#0a4fa6" stroke-width="0.9" stroke-linejoin="round"/>
<polygon points="278.0,280.0 262.0,288.0 266.0,296.0 282.0,288.0" fill="#1670d6" stroke="#0a4fa6" stroke-width="0.9" stroke-linejoin="round"/>
<polygon points="184.5,204.5 188.0,204.4 192.5,204.2 198.0,203.9 204.0,203.6 210.5,203.3 217.1,203.0 223.7,202.6 229.9,202.1 236.1,201.6 242.5,200.9 249.0,200.1 255.5,199.4 261.8,198.7 268.0,198.0 273.8,197.5 279.1,197.2 284.1,197.0 288.9,197.0 293.4,197.1 297.7,197.2 301.8,197.5 305.8,197.8 309.6,198.1 313.3,198.6 316.8,199.1 320.0,199.7 323.2,200.4 326.3,201.3 329.3,202.1 332.4,202.9 335.5,203.6 335.1,205.8 357.9,198.7 338.5,189.2 338.0,191.4 335.4,190.8 332.6,190.0 329.5,189.2 326.2,188.3 322.7,187.5 318.9,186.7 314.9,186.2 310.9,185.7 306.9,185.3 302.7,185.0 298.3,184.7 293.7,184.6 288.9,184.5 283.9,184.5 278.5,184.7 272.8,185.0 266.8,185.6 260.5,186.2 254.0,187.0 247.5,187.7 241.1,188.5 234.9,189.1 228.9,189.7 222.8,190.1 216.4,190.5 209.9,190.8 203.4,191.2 197.4,191.4 192.0,191.7 187.4,191.9 183.9,192.0" fill="#1670d6" stroke="#0a4fa6" stroke-width="0.9" stroke-linejoin="round"/>
<circle cx="187.1" cy="237.5" r="6.4" fill="url(#rs)"/>
<circle cx="196.9" cy="240.4" r="6.4" fill="url(#rs)"/>
<circle cx="184.2" cy="246.0" r="5.9" fill="url(#rs)"/>
<circle cx="201.2" cy="236.1" r="5.6" fill="url(#rs)"/>
<circle cx="191.3" cy="247.4" r="5.6" fill="url(#rs)"/>
<circle cx="181.4" cy="240.4" r="5.6" fill="url(#rs)"/>
<polygon points="186.7,234.8 191.7,234.6 198.5,234.3 206.7,233.9 215.7,233.5 225.1,233.0 234.4,232.6 243.2,232.1 251.0,231.6 257.9,231.1 264.5,230.6 270.6,230.0 276.6,229.5 282.5,228.9 288.3,228.4 294.3,227.8 300.5,227.4 307.3,226.9 314.7,226.4 322.3,225.9 330.0,225.4 337.2,225.0 343.7,224.6 349.2,224.2 353.4,224.0 352.5,211.0 348.4,211.3 343.0,211.6 336.4,212.0 329.2,212.4 321.5,212.9 313.8,213.4 306.4,213.9 299.5,214.4 293.2,214.9 287.2,215.4 281.3,216.0 275.4,216.5 269.5,217.1 263.4,217.6 257.0,218.1 250.2,218.6 242.5,219.1 233.7,219.6 224.4,220.1 215.1,220.5 206.1,220.9 197.9,221.3 191.1,221.6 186.0,221.9" fill="url(#hl2)" stroke="#0a4fa6" stroke-width="0.9" stroke-linejoin="round"/>
<polygon points="325.8,235.9 323.9,236.2 321.5,236.7 318.7,237.3 315.4,237.9 311.8,238.6 307.9,239.3 303.6,240.1 299.0,240.8 293.8,241.7 288.0,242.6 281.7,243.5 275.1,244.5 268.4,245.5 261.7,246.5 255.3,247.4 249.2,248.2 243.1,249.0 236.8,249.7 230.4,250.5 230.3,249.2 206.0,259.4 232.0,264.1 231.8,262.9 238.3,262.1 244.7,261.4 250.8,260.6 257.0,259.8 263.5,258.9 270.2,257.9 277.0,256.9 283.6,255.9 289.9,254.9 295.8,254.0 301.0,253.2 305.7,252.4 310.1,251.6 314.1,250.9 317.8,250.2 321.1,249.5 323.9,249.0 326.3,248.5 328.2,248.1" fill="#1670d6" stroke="#0a4fa6" stroke-width="0.9" stroke-linejoin="round"/>
<polygon points="181.5,251.9 181.4,252.7 181.2,253.7 181.0,255.0 180.8,256.5 180.6,258.2 180.4,259.9 180.3,261.7 180.4,263.5 180.5,265.1 180.8,266.8 181.0,268.4 181.4,270.0 181.8,271.6 182.2,273.1 182.8,274.7 183.4,276.2 184.1,277.9 185.0,279.4 185.9,280.9 186.8,282.1 187.6,283.2 188.3,284.2 188.8,284.8 189.1,285.3 199.8,276.3 199.2,275.7 198.5,275.0 197.7,274.3 196.9,273.5 196.1,272.8 195.4,272.1 194.8,271.4 194.3,270.8 193.8,270.1 193.4,269.1 192.9,268.0 192.5,266.9 192.2,265.7 191.8,264.6 191.6,263.4 191.4,262.4 191.2,261.4 191.2,260.2 191.2,258.8 191.2,257.5 191.3,256.1 191.3,254.8 191.4,253.7 191.5,252.8" fill="#115fc0" stroke="#0a4fa6" stroke-width="0.9" stroke-linejoin="round"/>
<polygon points="175.7,299.5 175.0,298.5 173.9,297.2 172.7,295.8 171.5,294.2 170.3,292.7 169.2,291.2 168.4,290.0 167.9,289.0 167.5,288.1 167.2,287.1 166.9,286.3 166.8,285.5 166.7,284.7 166.7,284.1 166.8,283.4 167.0,282.8 167.3,282.1 167.7,281.2 168.3,280.3 169.0,279.3 169.7,278.4 170.5,277.6 171.3,277.0 171.9,276.5 172.6,276.2 173.5,275.8 174.6,275.5 175.7,275.3 176.9,275.1 178.0,275.0 179.1,275.0 179.8,275.0 180.3,275.1 180.8,275.3 181.4,275.6 182.2,276.0 183.0,276.6 184.0,277.2 185.0,277.9 186.0,278.5 186.8,279.1 187.7,279.7 188.5,280.3 189.4,281.0 190.2,281.7 190.9,282.4 191.6,283.0 192.2,283.5 199.6,275.4 199.2,274.9 198.6,274.3 197.9,273.6 197.0,272.7 196.1,271.8 195.0,270.8 193.9,269.8 192.8,269.0 191.9,268.3 190.9,267.5 189.8,266.7 188.5,265.8 187.0,265.0 185.3,264.2 183.4,263.5 181.4,263.1 179.4,263.0 177.5,263.0 175.5,263.2 173.5,263.5 171.5,263.9 169.6,264.5 167.6,265.3 165.7,266.3 164.0,267.5 162.4,268.8 160.9,270.3 159.6,271.9 158.4,273.5 157.3,275.2 156.4,277.0 155.6,278.9 155.1,280.8 154.8,282.6 154.6,284.5 154.6,286.4 154.7,288.3 155.1,290.1 155.5,291.9 156.1,293.8 157.0,295.9 158.1,298.0 159.3,300.1 160.6,302.0 161.8,303.8 162.9,305.4 163.7,306.7 164.3,307.6" fill="#1670d6" stroke="#0a4fa6" stroke-width="0.9" stroke-linejoin="round"/>
<circle cx="194.1" cy="210.0" r="6.4" fill="url(#rs)"/>
<circle cx="204.0" cy="208.2" r="6.4" fill="url(#rs)"/>
<circle cx="213.9" cy="208.2" r="6.4" fill="url(#rs)"/>
<circle cx="198.4" cy="216.4" r="6.4" fill="url(#rs)"/>
<circle cx="208.2" cy="216.1" r="6.4" fill="url(#rs)"/>
<circle cx="192.7" cy="221.3" r="5.6" fill="url(#rs)"/>
<circle cx="202.6" cy="221.3" r="5.6" fill="url(#rs)"/>
<circle cx="211.1" cy="219.5" r="4.9" fill="url(#rs)"/>
<g id="rhalf">
<path d="M548.7 62.1 L549.3 61.8 L550.1 61.3 L551.1 60.7 L552.2 60.1 L553.3 59.6 L554.4 59.2 L555.3 59.0 L556.1 59.2 L556.7 59.6 L557.3 60.3 L557.8 61.2 L558.3 62.3 L558.7 63.5 L558.9 64.7 L559.1 65.9 L559.1 67.1 L558.9 68.2 L558.6 69.5 L558.1 70.8 L557.6 72.1 L557.0 73.4 L556.4 74.7 L555.7 75.9 L555.1 76.9 L554.5 78.0 L553.9 79.1 L553.3 80.2 L552.7 81.2 L552.0 82.0 L551.3 82.7 L550.6 83.1 L549.9 83.1 L549.2 82.7 L548.3 82.0 L547.3 81.0 L546.4 79.8 L545.5 78.5 L544.7 77.1 L544.1 75.7 L543.8 74.5 L543.6 73.2 L543.7 71.9 L543.9 70.5 L544.2 69.1 L544.6 67.8 L545.0 66.6 L545.4 65.5 L545.7 64.6 L546.1 63.9 L546.5 63.4 L546.9 63.0 L547.3 62.7 L547.8 62.5 L548.1 62.4 L548.5 62.3 L548.7 62.1" fill="none" stroke="#1266ca" stroke-width="2.8" stroke-linecap="round" stroke-linejoin="round"/>
<path d="M520.0 98.0 L520.5 97.5 L521.3 96.8 L522.2 95.9 L523.1 94.9 L524.1 94.1 L524.9 93.4 L525.6 93.0 L526.0 93.0 L526.1 93.5 L525.9 94.3 L525.6 95.4 L525.1 96.7 L524.7 98.1 L524.3 99.5 L524.0 100.8 L524.0 102.0 L524.2 103.1 L524.5 104.2 L525.0 105.2 L525.5 106.3 L526.1 107.3 L526.7 108.3 L527.4 109.2 L528.0 110.0 L528.7 110.7 L529.5 111.4 L530.4 112.0 L531.2 112.5 L532.1 113.0 L532.9 113.4 L533.5 113.7 L534.0 114.0" fill="none" stroke="#1266ca" stroke-width="2.8" stroke-linecap="round" stroke-linejoin="round"/>
<path d="M622.4 104.5 L622.6 103.7 L622.8 102.6 L623.1 101.3 L623.5 99.8 L623.9 98.4 L624.4 97.0 L625.0 95.7 L625.7 94.6 L626.5 93.6 L627.5 92.7 L628.6 91.7 L629.8 90.9 L631.0 90.2 L632.1 89.7 L633.1 89.5 L633.9 89.7 L634.6 90.2 L635.1 91.1 L635.6 92.3 L636.0 93.7 L636.3 95.2 L636.6 96.7 L636.9 98.2 L637.2 99.5 L637.5 100.9 L637.9 102.3 L638.3 103.8 L638.6 105.2 L638.9 106.6 L639.1 107.8 L639.0 108.7 L638.8 109.4 L638.4 109.8 L637.8 109.8 L637.1 109.7 L636.2 109.3 L635.2 108.9 L634.2 108.5 L633.2 108.1 L632.3 107.8 L631.3 107.6 L630.2 107.4 L629.0 107.2 L627.8 107.0 L626.7 106.7 L625.7 106.5 L624.7 106.3 L624.0 106.1 L623.5 105.9 L623.1 105.7 L622.8 105.4 L622.7 105.2 L622.6 105.0 L622.5 104.8 L622.5 104.6 L622.4 104.5" fill="none" stroke="#1266ca" stroke-width="2.8" stroke-linecap="round" stroke-linejoin="round"/>
<path d="M594.4 109.4 L595.2 109.1 L596.4 108.6 L597.8 107.9 L599.3 107.3 L600.9 106.7 L602.6 106.2 L604.3 106.0 L605.9 106.1 L607.5 106.6 L609.2 107.4 L610.9 108.4 L612.6 109.6 L614.3 110.9 L616.0 112.2 L617.6 113.3 L619.1 114.4 L620.5 115.3 L621.8 116.4 L623.0 117.4 L624.2 118.4 L625.4 119.3 L626.6 120.0 L627.7 120.6 L629.0 121.0 L630.3 121.0 L631.7 120.7 L633.1 120.3 L634.5 119.7 L635.9 119.1 L637.1 118.5 L638.1 118.0 L638.8 117.7" fill="none" stroke="#1266ca" stroke-width="2.8" stroke-linecap="round" stroke-linejoin="round"/>
<path d="M581.2 101.2 L582.2 101.7 L583.6 102.4 L585.2 103.2 L587.1 104.1 L589.0 105.0 L590.9 106.0 L592.7 106.9 L594.4 107.8 L595.9 108.6 L597.4 109.5 L598.8 110.4 L600.2 111.3 L601.6 112.1 L603.1 112.9 L604.5 113.7 L605.9 114.4 L607.3 115.0 L608.7 115.5 L610.1 116.0 L611.5 116.4 L612.9 116.8 L614.3 117.1 L615.8 117.4 L617.4 117.7 L619.2 117.8 L621.3 117.9 L623.4 117.9 L625.6 117.9 L627.6 117.8 L629.5 117.7 L631.1 117.7 L632.3 117.7" fill="none" stroke="#1266ca" stroke-width="2.8" stroke-linecap="round" stroke-linejoin="round"/>
<polygon points="513.5,107.6 515.2,111.8 517.5,117.6 520.2,124.4 523.3,132.0 526.5,139.9 529.7,147.6 532.8,154.8 535.7,161.0 538.4,166.4 541.0,171.3 543.6,175.8 546.2,180.0 548.7,184.0 551.1,187.9 553.6,191.8 556.1,195.7 558.7,200.0 561.6,204.5 564.5,209.0 567.4,213.4 570.1,217.6 572.6,221.3 574.6,224.5 576.1,226.8 587.9,219.2 586.3,216.8 584.3,213.7 581.8,209.9 579.1,205.8 576.3,201.4 573.4,196.9 570.6,192.5 567.9,188.3 565.4,184.3 562.9,180.4 560.5,176.6 558.1,172.7 555.7,168.7 553.3,164.5 550.8,160.0 548.3,155.0 545.6,149.1 542.6,142.1 539.4,134.5 536.2,126.8 533.2,119.2 530.5,112.4 528.2,106.6 526.5,102.4" fill="#3a8ae6" stroke="#0a4fa6" stroke-width="0.9" stroke-linejoin="round"/>
<polygon points="544.8,107.5 545.9,110.7 547.4,115.0 549.1,120.2 551.1,125.9 553.3,131.9 555.5,137.9 557.7,143.6 559.9,148.8 562.1,153.5 564.3,158.1 566.7,162.4 569.0,166.6 571.3,170.8 573.6,174.8 575.9,178.9 578.0,183.0 580.2,187.4 582.5,192.2 584.8,197.2 587.0,202.0 589.2,206.6 591.1,210.8 592.7,214.3 593.9,216.9 602.1,213.1 600.9,210.5 599.3,207.0 597.3,202.9 595.2,198.2 592.9,193.3 590.6,188.4 588.3,183.5 586.0,179.0 583.8,174.7 581.5,170.5 579.2,166.3 576.9,162.2 574.6,158.1 572.3,153.9 570.2,149.6 568.1,145.2 566.1,140.3 563.9,134.7 561.7,128.8 559.6,122.9 557.6,117.2 555.9,112.1 554.4,107.7 553.2,104.5" fill="#2a7ee0" stroke="#0a4fa6" stroke-width="0.9" stroke-linejoin="round"/>
<polygon points="588.7,113.2 589.3,115.6 590.2,118.7 591.2,122.4 592.3,126.6 593.5,131.1 594.8,136.0 596.2,141.0 597.7,146.2 599.2,151.8 600.8,158.0 602.5,164.8 604.3,171.7 606.2,178.6 608.1,185.2 609.9,191.3 611.8,196.6 613.8,201.3 615.9,205.5 618.0,209.3 620.1,212.6 622.1,215.5 623.8,217.9 625.2,219.9 626.2,221.4 633.8,216.6 632.6,214.8 631.2,212.7 629.5,210.3 627.6,207.7 625.7,204.6 623.8,201.3 621.9,197.5 620.2,193.4 618.5,188.5 616.7,182.7 614.9,176.2 613.0,169.4 611.2,162.5 609.5,155.8 607.9,149.5 606.3,143.8 604.9,138.6 603.5,133.6 602.2,128.7 601.0,124.2 599.8,120.0 598.8,116.4 598.0,113.3 597.3,110.8" fill="#3a8ae6" stroke="#0a4fa6" stroke-width="0.9" stroke-linejoin="round"/>
<polygon points="570.4,142.8 571.1,144.3 572.1,146.3 573.2,148.7 574.5,151.4 575.9,154.3 577.4,157.2 579.0,160.2 580.5,163.0 582.1,165.6 583.7,168.2 585.4,170.6 587.1,173.0 588.8,175.6 590.6,178.3 592.5,181.4 594.5,184.9 596.8,189.3 599.5,194.5 602.4,200.2 605.3,206.1 608.1,211.9 610.7,217.1 612.8,221.6 614.4,224.8 621.6,221.2 620.0,218.0 617.9,213.6 615.3,208.4 612.5,202.6 609.5,196.7 606.6,190.9 603.9,185.6 601.5,181.1 599.4,177.3 597.4,174.1 595.5,171.1 593.7,168.5 592.0,166.1 590.4,163.7 588.9,161.4 587.5,159.0 586.0,156.4 584.5,153.6 583.1,150.7 581.7,147.9 580.5,145.2 579.3,142.8 578.3,140.8 577.6,139.2" fill="#2a7ee0" stroke="#0a4fa6" stroke-width="0.9" stroke-linejoin="round"/>
<polygon points="569.5,203.4 566.6,200.6 562.7,196.7 557.9,192.0 552.8,186.9 547.4,181.7 542.3,176.5 537.6,171.7 533.7,167.6 530.4,164.0 527.5,160.7 524.8,157.5 522.4,154.4 520.1,151.6 518.0,148.8 515.9,146.2 513.8,143.7 516.1,141.8 498.0,134.0 503.9,152.2 506.2,150.3 508.1,152.6 510.2,155.1 512.3,157.8 514.6,160.7 517.1,163.8 519.9,167.1 522.9,170.7 526.3,174.4 530.4,178.7 535.2,183.5 540.4,188.7 545.7,194.1 550.9,199.2 555.7,203.8 559.6,207.7 562.5,210.6" fill="#3a8ae6" stroke="#0a4fa6" stroke-width="0.9" stroke-linejoin="round"/>
<polygon points="553.0,204.3 551.1,202.2 548.5,199.4 545.5,196.0 542.1,192.3 538.6,188.5 535.1,184.7 531.8,181.2 528.8,178.2 526.3,175.6 523.9,173.3 521.5,171.1 519.3,169.0 517.1,167.1 514.9,165.2 512.6,163.5 510.3,161.7 507.8,160.0 505.1,158.4 506.3,156.3 490.0,155.0 499.8,167.4 501.1,165.3 503.5,166.8 505.7,168.3 507.8,169.8 509.8,171.4 511.9,173.2 514.0,175.0 516.1,176.9 518.3,179.0 520.7,181.3 523.2,183.8 526.0,186.7 529.2,190.1 532.7,193.9 536.2,197.7 539.5,201.4 542.6,204.8 545.1,207.6 547.0,209.7" fill="#2a7ee0" stroke="#0a4fa6" stroke-width="0.9" stroke-linejoin="round"/>
<polygon points="625.8,120.3 624.9,123.0 623.6,126.6 622.1,130.9 620.4,135.7 618.6,140.7 617.0,145.7 615.7,150.5 614.6,154.8 613.6,158.6 612.6,162.3 611.7,166.0 610.8,169.5 609.9,173.1 609.2,176.5 608.7,180.0 608.4,183.4 608.2,186.8 608.3,190.0 608.5,193.2 608.9,196.3 609.5,199.2 610.1,202.0 610.8,204.7 611.6,207.3 612.6,209.8 613.6,212.2 614.8,214.4 616.1,216.5 617.5,218.4 618.9,220.2 620.3,221.9 621.7,223.7 623.3,225.4 625.2,227.2 627.0,228.8 628.9,230.3 630.7,231.7 632.3,233.0 633.6,233.9 634.5,234.7 638.5,230.2 637.6,229.3 636.3,228.2 634.8,226.8 633.2,225.4 631.6,223.8 630.0,222.2 628.6,220.6 627.4,219.0 626.2,217.4 625.1,215.7 624.0,214.0 622.9,212.3 622.0,210.5 621.1,208.7 620.3,206.8 619.6,204.7 619.0,202.5 618.5,200.1 618.0,197.6 617.7,195.1 617.4,192.4 617.3,189.7 617.2,186.9 617.3,184.1 617.6,181.1 618.1,178.1 618.7,175.0 619.5,171.7 620.4,168.2 621.3,164.6 622.3,160.9 623.3,157.0 624.4,152.8 625.7,148.1 627.0,143.0 628.1,137.9 629.2,132.9 630.2,128.5 631.0,124.7 631.6,121.9" fill="#0f60c2" stroke="#0a4fa6" stroke-width="0.9" stroke-linejoin="round"/>
<polygon points="616.4,143.6 614.2,147.1 611.1,151.8 607.5,157.5 603.5,163.8 599.4,170.3 595.6,176.9 592.4,183.2 589.7,188.7 587.7,193.7 585.9,198.3 584.5,202.8 583.2,207.0 582.2,210.9 581.4,214.7 580.5,218.2 579.7,221.7 579.0,225.2 578.3,228.7 575.9,228.2 582.0,245.0 592.5,231.2 590.1,230.8 590.7,227.6 591.5,224.3 592.2,220.9 593.0,217.4 593.9,213.8 594.8,210.0 595.8,206.2 597.0,202.1 598.5,197.8 600.3,193.3 602.6,188.0 605.5,181.9 608.6,175.2 611.7,168.2 614.8,161.5 617.6,155.4 619.9,150.2 621.6,146.4" fill="#1670d6" stroke="#0a4fa6" stroke-width="0.9" stroke-linejoin="round"/>
<polygon points="620.1,120.2 618.7,124.4 616.8,129.9 614.5,136.5 612.0,143.8 609.3,151.5 607.0,159.3 604.9,166.8 603.1,173.6 601.4,180.0 599.8,186.3 598.4,192.7 597.0,198.9 595.8,205.1 594.7,211.0 593.8,216.8 593.1,222.3 592.7,227.8 592.5,233.2 592.6,238.4 592.7,243.3 590.1,243.4 600.0,257.0 608.3,242.6 605.7,242.7 605.5,238.1 605.5,233.4 605.7,228.5 606.1,223.7 606.7,218.6 607.6,213.2 608.6,207.5 609.8,201.6 611.1,195.4 612.4,189.2 613.7,182.8 614.9,176.4 616.4,169.6 618.0,162.1 619.7,154.2 621.2,146.2 622.7,138.7 624.0,131.8 625.1,126.1 625.9,121.8" fill="#1670d6" stroke="#0a4fa6" stroke-width="0.9" stroke-linejoin="round"/>
<polygon points="618.5,128.4 615.4,132.6 611.1,138.5 606.0,145.6 600.5,153.2 595.0,161.2 589.9,168.8 585.3,175.6 581.5,180.9 578.6,184.9 576.2,188.1 574.1,190.7 572.4,192.7 570.8,194.4 569.3,196.0 567.8,197.5 566.2,199.0 564.7,197.4 559.0,211.0 575.3,208.6 573.8,207.0 575.5,205.3 577.1,203.7 578.8,202.0 580.6,200.0 582.6,197.7 584.9,194.8 587.5,191.4 590.5,187.1 594.1,181.5 598.6,174.6 603.5,166.7 608.5,158.4 613.2,150.1 617.4,142.5 621.0,136.2 623.5,131.6" fill="#1670d6" stroke="#0a4fa6" stroke-width="0.9" stroke-linejoin="round"/>
<polygon points="563.1,148.2 562.1,151.1 560.7,154.9 559.0,159.5 557.2,164.6 555.3,169.9 553.3,175.4 551.5,180.6 550.1,185.5 548.8,190.1 547.5,194.8 546.2,199.5 544.9,204.2 543.7,208.8 542.5,213.2 541.5,217.6 540.6,221.8 539.9,225.9 539.3,230.0 538.8,233.9 536.3,233.6 544.0,249.0 554.3,235.6 551.8,235.3 552.2,231.7 552.7,227.9 553.4,224.2 554.2,220.4 555.1,216.3 556.1,211.9 557.2,207.3 558.4,202.7 559.5,198.0 560.7,193.2 561.9,188.5 563.1,183.6 564.0,178.1 565.0,172.5 565.9,166.9 566.9,161.6 567.7,156.8 568.4,152.8 568.9,149.8" fill="#1670d6" stroke="#0a4fa6" stroke-width="0.9" stroke-linejoin="round"/>
<polygon points="562.0,144.2 560.0,147.0 557.3,150.8 554.2,155.2 550.6,160.2 547.0,165.4 543.3,170.7 539.9,175.9 536.9,180.7 534.2,185.3 531.5,190.0 528.8,194.6 526.3,199.2 523.8,203.7 521.7,207.9 519.7,211.8 517.9,215.3 516.3,218.4 514.7,221.3 513.2,223.9 511.9,226.3 510.7,228.4 509.7,230.2 508.8,231.8 508.0,233.1 522.0,240.9 522.7,239.7 523.6,238.1 524.6,236.3 525.8,234.1 527.2,231.7 528.7,229.0 530.3,226.0 532.1,222.7 534.0,219.1 536.0,215.1 538.1,210.8 540.2,206.3 542.4,201.5 544.6,196.7 546.8,192.0 549.1,187.3 551.5,182.4 554.2,177.0 556.9,171.2 559.6,165.4 562.2,160.0 564.6,155.0 566.5,150.9 568.0,147.8" fill="url(#hl3)" stroke="#0a4fa6" stroke-width="0.9" stroke-linejoin="round"/>
<polygon points="558.1,117.0 555.1,120.7 550.9,125.9 545.9,132.2 540.4,138.9 534.7,145.9 529.4,152.7 524.6,158.9 520.6,164.0 517.3,168.0 514.5,171.4 511.9,174.3 509.6,176.9 507.5,179.4 505.4,181.9 503.3,184.6 501.1,187.4 498.7,190.6 496.2,193.9 493.7,197.3 491.9,195.9 490.0,215.0 507.6,207.5 505.8,206.2 508.2,202.8 510.7,199.6 512.9,196.6 515.0,193.9 517.1,191.4 519.1,188.9 521.1,186.3 523.3,183.4 525.7,180.2 528.4,176.4 531.4,172.0 535.1,166.6 539.5,160.0 544.2,152.7 549.0,145.1 553.6,137.6 557.8,130.8 561.3,125.2 563.9,121.0" fill="#1670d6" stroke="#0a4fa6" stroke-width="0.9" stroke-linejoin="round"/>
<polygon points="553.6,112.2 551.1,115.2 547.7,119.4 543.7,124.3 539.2,129.8 534.5,135.4 529.9,140.8 525.6,145.9 521.7,150.1 518.2,153.8 514.8,157.2 511.6,160.4 508.4,163.3 505.4,166.0 502.4,168.4 499.6,170.6 496.8,172.5 494.2,174.0 491.4,175.3 488.6,176.3 485.9,177.3 483.2,178.0 480.7,178.7 478.5,179.3 476.7,179.9 481.3,192.1 482.7,191.5 484.6,190.8 487.1,189.9 490.0,188.7 493.2,187.4 496.5,185.8 499.9,183.8 503.2,181.5 506.2,179.1 509.2,176.4 512.2,173.5 515.3,170.4 518.4,167.1 521.6,163.6 524.9,159.9 528.3,155.9 532.0,151.3 536.2,145.9 540.6,140.1 544.9,134.2 549.1,128.5 552.9,123.4 556.0,119.0 558.4,115.8" fill="#1670d6" stroke="#0a4fa6" stroke-width="0.9" stroke-linejoin="round"/>
<polygon points="479.0,183.0 492.0,175.0 510.0,170.6 504.4,183.0 486.0,194.0 482.0,191.0" fill="#083a80" stroke="#062c66" stroke-width="0.9" stroke-linejoin="round"/>
<path d="M522.0 235.0 L521.4 234.7 L520.7 234.1 L519.8 233.5 L518.8 232.9 L517.6 232.2 L516.5 231.7 L515.2 231.2 L514.0 231.0 L512.7 230.9 L511.1 230.9 L509.5 231.0 L507.9 231.2 L506.2 231.5 L504.7 231.9 L503.2 232.4 L502.0 233.0 L500.9 233.7 L499.8 234.6 L498.8 235.6 L497.9 236.6 L497.1 237.7 L496.5 238.9 L496.1 240.0 L496.0 241.0 L496.1 242.1 L496.6 243.2 L497.2 244.4 L498.0 245.6 L498.9 246.7 L499.9 247.7 L501.0 248.5 L502.0 249.0 L503.1 249.2 L504.5 249.0 L506.0 248.5 L507.5 248.0 L509.0 247.5 L510.2 247.0 L511.3 246.8 L512.0 247.0 L512.3 247.5 L512.2 248.3 L511.9 249.3 L511.4 250.4 L510.9 251.6 L510.4 252.8 L510.1 254.0 L510.0 255.0 L510.2 256.0 L510.5 257.0 L510.9 258.0 L511.4 259.0 L511.9 259.9 L512.3 260.8 L512.7 261.5 L513.0 262.0" fill="none" stroke="#1266ca" stroke-width="3" stroke-linecap="round" stroke-linejoin="round"/>
<path d="M510.0 253.0 L511.0 252.9 L512.2 252.7 L513.8 252.6 L515.5 252.4 L517.3 252.1 L519.0 251.8 L520.6 251.5 L522.0 251.0 L523.3 250.5 L524.5 249.9 L525.7 249.3 L526.9 248.6 L527.9 247.9 L528.8 247.0 L529.5 246.1 L530.0 245.0 L530.2 243.7 L530.2 242.1 L529.9 240.4 L529.5 238.6 L529.0 236.9 L528.6 235.3 L528.2 234.0 L528.0 233.0" fill="none" stroke="#1266ca" stroke-width="2.8" stroke-linecap="round" stroke-linejoin="round"/>
<path d="M543.0 247.0 L543.0 248.3 L543.0 250.2 L543.0 252.3 L543.0 254.8 L542.9 257.2 L542.8 259.7 L542.5 262.0 L542.0 264.0 L541.3 265.7 L540.3 267.4 L539.1 268.9 L537.8 270.3 L536.6 271.7 L535.5 273.1 L534.6 274.5 L534.0 276.0 L533.7 277.5 L533.5 279.0 L533.5 280.5 L533.7 282.1 L534.0 283.6 L534.5 285.1 L535.2 286.5 L536.0 288.0 L537.2 289.5 L538.8 291.1 L540.6 292.7 L542.6 294.2 L544.6 295.7 L546.4 297.0 L547.9 298.2 L549.0 299.0" fill="none" stroke="#1266ca" stroke-width="3" stroke-linecap="round" stroke-linejoin="round"/>
<path d="M544.0 284.0 L544.6 283.0 L545.2 281.8 L546.1 280.2 L547.0 278.5 L548.1 276.7 L549.2 275.0 L550.6 273.4 L552.0 272.0 L553.7 270.8 L555.6 269.6 L557.8 268.5 L560.0 267.5 L562.2 266.5 L564.4 265.6 L566.3 264.8 L568.0 264.0 L569.4 263.3 L570.8 262.6 L571.9 262.0 L573.0 261.5 L573.9 261.0 L574.8 260.6 L575.4 260.3 L576.0 260.0" fill="none" stroke="#1266ca" stroke-width="2.8" stroke-linecap="round" stroke-linejoin="round"/>
<path d="M578.3 53.5 L578.9 53.1 L579.5 52.6 L580.3 51.9 L581.1 51.2 L582.1 50.5 L583.2 49.8 L584.4 49.1 L585.8 48.5 L587.3 47.9 L589.2 47.3 L591.3 46.6 L593.4 45.9 L595.5 45.3 L597.5 44.9 L599.2 44.7 L600.6 44.8 L601.6 45.2 L602.5 45.8 L603.2 46.7 L603.7 47.7 L604.1 48.8 L604.3 49.9 L604.4 51.1 L604.3 52.2 L604.0 53.4 L603.4 54.6 L602.7 56.0 L601.8 57.3 L600.9 58.7 L599.9 59.9 L598.9 61.1 L598.1 62.1 L597.3 63.0 L596.4 63.8 L595.5 64.5 L594.6 65.2 L593.8 65.8 L593.0 66.3 L592.4 66.7 L591.9 67.1" fill="none" stroke="#1266ca" stroke-width="2.8" stroke-linecap="round" stroke-linejoin="round"/>
<polygon points="574.5,59.5 575.6,59.9 577.1,60.2 578.6,60.6 580.1,61.1 581.5,61.6 582.7,62.1 583.4,62.5 583.8,62.9 584.2,63.6 584.9,64.7 585.5,66.0 586.1,67.5 586.5,69.1 586.8,70.6 587.0,71.9 586.9,72.9 586.8,73.9 586.5,75.1 586.0,76.4 585.4,77.8 584.7,79.1 583.9,80.3 583.1,81.3 582.3,82.1 581.6,82.8 580.7,83.4 579.6,84.0 578.4,84.5 577.1,85.0 575.8,85.3 574.4,85.6 573.1,85.8 571.8,85.8 570.2,85.7 568.2,85.4 566.2,85.0 564.1,84.5 562.2,84.1 560.5,83.7 559.2,83.4 556.9,93.2 558.0,93.5 559.6,93.9 561.5,94.5 563.7,95.2 566.1,95.8 568.6,96.4 571.2,96.7 573.7,96.8 575.9,96.6 578.1,96.2 580.2,95.7 582.3,95.1 584.4,94.3 586.4,93.2 588.4,92.0 590.2,90.5 591.8,88.9 593.2,87.0 594.5,85.0 595.7,82.9 596.7,80.7 597.5,78.4 598.1,76.0 598.4,73.5 598.3,71.0 598.0,68.6 597.4,66.1 596.6,63.8 595.7,61.5 594.6,59.3 593.3,57.3 591.7,55.4 589.5,53.7 587.2,52.4 585.0,51.6 582.9,51.0 580.9,50.6 579.3,50.3 578.1,50.1 577.3,49.9" fill="#0f60c2" stroke="#0a4fa6" stroke-width="0.9" stroke-linejoin="round"/>
<polygon points="558.6,92.2 559.9,91.6 561.5,90.8 563.3,90.0 565.2,89.1 567.0,88.4 568.7,87.8 570.1,87.5 570.9,87.4 572.0,87.5 573.6,87.8 575.3,88.2 577.0,88.7 578.4,89.3 579.4,89.7 579.7,89.8 579.2,89.0 578.9,87.7 578.9,87.5 578.7,88.4 578.2,89.8 577.5,91.5 576.6,93.4 575.7,95.4 575.0,97.4 574.4,99.1 574.0,100.6 573.6,102.0 573.2,103.1 572.9,104.0 572.7,104.6 572.5,105.1 572.4,105.3 572.2,105.6 571.6,106.0 570.7,106.5 569.5,107.0 568.3,107.5 567.0,108.0 565.8,108.4 564.9,108.8 568.1,118.2 568.7,118.1 569.8,117.9 571.1,117.6 572.8,117.2 574.6,116.8 576.4,116.1 578.4,115.1 580.3,113.8 581.9,112.2 583.0,110.6 583.9,108.9 584.6,107.4 585.2,105.9 585.7,104.5 586.2,103.1 586.7,102.0 587.3,100.7 588.1,99.1 589.2,97.2 590.3,95.1 591.3,92.7 592.1,90.0 592.4,86.6 591.3,82.6 588.9,79.6 586.4,77.7 583.8,76.4 581.0,75.5 578.3,74.9 575.5,74.5 572.8,74.3 569.9,74.3 567.0,74.9 564.2,75.9 561.8,77.1 559.5,78.5 557.5,79.8 555.8,81.0 554.5,81.8 553.6,82.4" fill="#1a78de" stroke="#0a4fa6" stroke-width="0.9" stroke-linejoin="round"/>
<polygon points="559.5,258.3 560.1,258.8 560.8,259.5 561.9,260.5 563.1,261.6 564.6,262.9 566.2,264.1 568.1,265.2 570.1,266.1 572.1,266.7 574.0,267.0 575.9,267.2 577.7,267.2 579.6,267.2 581.5,267.0 583.4,266.7 585.3,266.3 587.5,265.8 589.7,265.0 591.9,264.0 594.0,263.1 596.0,262.1 597.7,261.2 599.1,260.5 600.1,260.1 595.9,249.9 594.7,250.4 593.1,251.0 591.4,251.7 589.5,252.4 587.5,253.2 585.7,253.8 584.0,254.3 582.7,254.7 581.4,254.9 580.1,255.1 578.8,255.2 577.6,255.3 576.5,255.2 575.5,255.1 574.6,255.0 573.9,254.9 573.3,254.7 572.5,254.3 571.5,253.6 570.4,252.9 569.3,252.0 568.3,251.2 567.3,250.3 566.5,249.7" fill="#0f60c2" stroke="#0a4fa6" stroke-width="0.9" stroke-linejoin="round"/>
<polygon points="595.2,256.4 594.8,257.0 594.1,257.9 593.4,258.9 592.5,260.1 591.7,261.3 590.7,262.5 589.8,263.8 589.0,265.0 588.2,266.1 587.4,267.2 586.7,268.4 586.0,269.6 585.2,270.9 584.4,272.2 583.6,273.6 582.8,275.1 581.9,276.7 580.9,278.5 580.0,280.5 579.0,282.4 578.1,284.3 577.3,286.0 576.7,287.4 576.1,288.4 585.9,293.6 586.4,292.6 587.2,291.2 588.2,289.6 589.2,287.8 590.3,286.0 591.4,284.2 592.4,282.5 593.2,280.9 594.0,279.6 594.7,278.3 595.5,277.1 596.2,275.9 596.9,274.7 597.7,273.5 598.4,272.3 599.0,271.0 599.7,269.7 600.3,268.4 601.0,267.0 601.7,265.7 602.3,264.4 602.9,263.3 603.4,262.3 603.8,261.6" fill="#1670d6" stroke="#0a4fa6" stroke-width="0.9" stroke-linejoin="round"/>
<polygon points="576.0,220.2 575.4,220.9 574.6,221.9 573.7,223.1 572.6,224.5 571.5,225.9 570.3,227.4 569.2,228.8 568.1,230.2 567.2,231.6 566.3,233.0 565.4,234.4 564.6,235.8 563.7,237.2 562.8,238.5 562.0,239.9 561.2,241.1 560.4,242.5 559.5,243.9 558.5,245.4 557.6,246.8 556.7,248.2 555.9,249.4 555.2,250.5 554.7,251.3 565.3,258.7 565.9,258.0 566.6,257.0 567.5,255.9 568.5,254.6 569.6,253.2 570.7,251.7 571.8,250.3 572.8,248.9 573.7,247.5 574.7,246.1 575.5,244.7 576.4,243.2 577.3,241.8 578.2,240.5 579.0,239.1 579.9,237.8 580.7,236.4 581.5,234.8 582.4,233.2 583.3,231.6 584.1,230.2 584.9,228.8 585.5,227.7 586.0,226.8" fill="url(#cyl)" stroke="#0a4fa6" stroke-width="0.9" stroke-linejoin="round"/>
<path d="M582.4 279.8 L583.5 279.6 L585.1 279.4 L586.9 279.1 L589.0 278.8 L591.1 278.6 L593.1 278.4 L594.9 278.3 L596.5 278.4 L597.8 278.5 L598.9 278.8 L600.0 279.1 L601.0 279.5 L601.8 280.0 L602.5 280.5 L603.1 281.2 L603.5 281.9 L603.8 282.7 L603.8 283.7 L603.7 284.9 L603.5 286.0 L603.2 287.2 L602.8 288.4 L602.5 289.4 L602.1 290.4 L601.8 291.2 L601.3 292.0 L600.8 292.7 L600.3 293.4 L599.7 294.0 L599.3 294.5 L598.9 294.9 L598.6 295.3" fill="none" stroke="#1266ca" stroke-width="3" stroke-linecap="round" stroke-linejoin="round"/>
<path d="M572.5 262.1 L571.2 262.7 L569.5 263.4 L567.5 264.3 L565.3 265.2 L563.0 266.2 L560.8 267.2 L558.7 268.2 L556.9 269.2 L555.4 270.1 L553.9 270.9 L552.6 271.8 L551.3 272.6 L550.1 273.5 L549.0 274.4 L548.0 275.3 L547.1 276.2 L546.2 277.3 L545.5 278.5 L544.9 279.7 L544.3 280.9 L543.9 282.1 L543.5 283.2 L543.1 284.0 L542.8 284.7" fill="none" stroke="#1266ca" stroke-width="2.8" stroke-linecap="round" stroke-linejoin="round"/>
<path d="M621.9 242.4 L622.1 243.3 L622.3 244.5 L622.6 245.9 L622.9 247.6 L623.2 249.2 L623.6 250.9 L624.1 252.4 L624.7 253.6 L625.4 254.8 L626.2 256.0 L627.0 257.2 L628.0 258.3 L628.9 259.3 L629.9 260.0 L630.9 260.5 L631.8 260.7 L632.7 260.6 L633.7 260.2 L634.8 259.6 L635.8 258.8 L636.8 257.7 L637.7 256.5 L638.4 255.2 L638.8 253.6 L639.0 251.8 L638.9 249.6 L638.7 247.0 L638.3 244.4 L637.9 241.7 L637.6 239.3 L637.4 237.1 L637.4 235.3 L637.7 233.9 L638.2 232.9 L638.8 232.0 L639.4 231.3 L640.1 230.8 L640.8 230.4 L641.3 230.0 L641.7 229.6" fill="none" stroke="#1266ca" stroke-width="2.8" stroke-linecap="round" stroke-linejoin="round"/>
<path d="M630.4 221.2 L631.0 221.4 L631.9 221.8 L633.0 222.3 L634.2 222.8 L635.5 223.2 L636.7 223.6 L637.8 223.9 L638.8 224.0 L639.7 223.9 L640.6 223.6 L641.4 223.2 L642.2 222.8 L642.9 222.3 L643.5 221.8 L644.1 221.4 L644.5 221.2" fill="none" stroke="#1266ca" stroke-width="2.8" stroke-linecap="round" stroke-linejoin="round"/>
<path d="M641.7 229.6 L642.3 231.1 L643.2 233.2 L644.3 235.7 L645.4 238.4 L646.7 241.0 L647.9 243.4 L649.1 245.4 L650.1 246.6 L651.1 247.1 L652.1 247.3 L653.1 247.0 L654.0 246.4 L654.9 245.6 L655.7 244.6 L656.5 243.5 L657.2 242.4 L657.8 241.0 L658.3 239.2 L658.7 237.2 L659.0 235.0 L659.3 232.9 L659.6 231.0 L659.8 229.4 L660.0 228.2" fill="none" stroke="#1266ca" stroke-width="2.8" stroke-linecap="round" stroke-linejoin="round"/>
<path d="M484.0 130.0 L484.8 129.9 L485.9 129.7 L487.2 129.4 L488.6 129.1 L490.1 128.9 L491.5 128.8 L492.9 128.8 L494.0 129.0 L495.0 129.5 L495.9 130.1 L496.8 131.0 L497.6 131.9 L498.4 132.9 L499.0 133.8 L499.6 134.5 L500.0 135.0" fill="none" stroke="#1266ca" stroke-width="2.8" stroke-linecap="round" stroke-linejoin="round"/>
<path d="M470.0 149.0 L471.0 149.3 L472.2 149.8 L473.8 150.3 L475.5 150.9 L477.3 151.5 L479.0 152.0 L480.6 152.6 L482.0 153.0 L483.2 153.4 L484.5 153.7 L485.6 154.0 L486.8 154.2 L487.8 154.5 L488.7 154.7 L489.4 154.9 L490.0 155.0" fill="none" stroke="#1266ca" stroke-width="2.8" stroke-linecap="round" stroke-linejoin="round"/>
<path d="M470.0 193.0 L480.0 189.0" fill="none" stroke="#1266ca" stroke-width="2.8" stroke-linecap="round" stroke-linejoin="round"/>
<circle cx="462.1" cy="124.5" r="6.6" fill="url(#rs)"/>
<circle cx="468.7" cy="137.8" r="6.6" fill="url(#rs)"/>
<circle cx="476.1" cy="139.3" r="8.1" fill="url(#rs)"/>
<circle cx="471.0" cy="126.0" r="9.2" fill="url(#rs)"/>
<circle cx="462.1" cy="113.5" r="8.5" fill="url(#rs)"/>
<circle cx="476.1" cy="111.3" r="8.5" fill="url(#rs)"/>
<circle cx="469.5" cy="115.0" r="7.4" fill="url(#rs)"/>
<circle cx="459.2" cy="103.9" r="8.5" fill="url(#rs)"/>
<circle cx="474.6" cy="101.7" r="8.5" fill="url(#rs)"/>
<circle cx="467.3" cy="98.7" r="7.4" fill="url(#rs)"/>
<circle cx="465.0" cy="91.4" r="8.1" fill="url(#rs)"/>
<circle cx="465.1" cy="251.3" r="7.7" fill="url(#rs)"/>
<circle cx="458.4" cy="244.0" r="7.4" fill="url(#rs)"/>
<circle cx="468.0" cy="241.0" r="8.5" fill="url(#rs)"/>
<circle cx="475.4" cy="241.0" r="7.4" fill="url(#rs)"/>
<circle cx="459.2" cy="233.6" r="8.8" fill="url(#rs)"/>
<circle cx="474.6" cy="232.2" r="9.2" fill="url(#rs)"/>
<circle cx="459.9" cy="219.6" r="8.8" fill="url(#rs)"/>
<circle cx="469.5" cy="218.2" r="8.1" fill="url(#rs)"/>
<circle cx="468.7" cy="207.8" r="8.8" fill="url(#rs)"/>
<circle cx="474.6" cy="203.4" r="8.1" fill="url(#rs)"/>
<path d="M465.1 199.0 L465.3 198.6 L465.5 198.0 L465.8 197.3 L466.1 196.6 L466.5 195.8 L466.9 195.1 L467.4 194.4 L468.0 193.8 L468.7 193.4 L469.4 192.9 L470.2 192.5 L471.1 192.1 L472.0 191.7 L472.9 191.4 L473.8 191.1 L474.6 190.9 L475.5 190.7 L476.4 190.5 L477.4 190.4 L478.4 190.3 L479.3 190.3 L480.1 190.2 L480.8 190.2 L481.3 190.2" fill="none" stroke="#1266ca" stroke-width="2.8" stroke-linecap="round" stroke-linejoin="round"/>
<path d="M445.9 223.3 L445.9 223.9 L445.9 224.7 L445.8 225.6 L445.8 226.6 L445.8 227.7 L445.9 228.8 L446.0 229.8 L446.3 230.7 L446.6 231.5 L447.1 232.4 L447.7 233.3 L448.3 234.1 L449.0 234.9 L449.7 235.6 L450.4 236.2 L451.1 236.6 L451.8 236.9 L452.6 237.0 L453.4 237.1 L454.2 237.1 L455.0 237.0 L455.8 236.7 L456.4 236.3 L456.9 235.8 L457.3 235.2 L457.6 234.3 L457.7 233.3 L457.8 232.3 L457.8 231.1 L458.0 229.9 L458.1 228.8 L458.4 227.7 L458.8 226.7 L459.2 225.6 L459.7 224.5 L460.2 223.3 L460.8 222.3 L461.4 221.3 L462.1 220.4 L462.8 219.6 L463.7 219.0 L464.6 218.5 L465.5 218.1 L466.5 217.7 L467.6 217.5 L468.7 217.3 L469.8 217.1 L471.0 217.1 L472.2 217.1 L473.5 217.2 L474.8 217.5 L476.2 217.8 L477.6 218.1 L478.9 218.4 L480.1 218.5 L481.3 218.5 L482.3 218.4 L483.3 218.2 L484.2 217.9 L485.0 217.6 L485.8 217.2 L486.6 216.8 L487.3 216.4 L487.9 216.0 L488.5 215.5 L489.0 214.9 L489.4 214.2 L489.8 213.6 L490.1 212.9 L490.4 212.4 L490.6 211.9 L490.8 211.5" fill="none" stroke="#1266ca" stroke-width="2.8" stroke-linecap="round" stroke-linejoin="round"/>
</g>
<use href="#rhalf" transform="rotate(180 643.7 171.5)"/>
<line x1="48.30" y1="180.90" x2="375.00" y2="180.90" stroke="#111" stroke-width="3.5" stroke-dasharray="17.2,17.05"/>
<line x1="641.80" y1="8.40" x2="641.80" y2="335.00" stroke="#111" stroke-width="3.6" stroke-dasharray="17.3,17.03"/>
<text transform="translate(65.50,240.10) scale(1.035,1)" font-size="22.3" text-anchor="middle" fill="#111" font-weight="normal" >strong dimer</text>
<text transform="translate(52.30,267.40) scale(1.02,1)" font-size="22.3" text-anchor="middle" fill="#111" font-weight="normal" >interface</text>
<text transform="translate(722.00,325.80) scale(1.035,1)" font-size="22.3" text-anchor="middle" fill="#111" font-weight="normal" >weak dimer</text>
<text transform="translate(707.20,353.10) scale(1.02,1)" font-size="22.3" text-anchor="middle" fill="#111" font-weight="normal" >interface</text>
<rect x="99.2" y="377.2" width="297.7" height="54.0" fill="#29a7e4"/>
<text transform="translate(247.40,394.80) scale(1.025,1)" font-size="22.2" text-anchor="middle" fill="#111" font-weight="normal" >Thermodynamic Stability</text>
<text transform="translate(243.70,421.80) scale(1.025,1)" font-size="22.2" text-anchor="middle" fill="#111" font-weight="normal" >(Trp Flourescence)</text>
<line x1="87.40" y1="436.75" x2="87.40" y2="694.60" stroke="#1a1a1a" stroke-width="1.25" />
<line x1="86.80" y1="694.60" x2="406.40" y2="694.60" stroke="#1a1a1a" stroke-width="1.25" />
<line x1="81.50" y1="658.00" x2="87.40" y2="658.00" stroke="#1a1a1a" stroke-width="1.25" />
<text transform="translate(79.20,664.90) scale(1.035,1)" font-size="21" text-anchor="end" fill="#111" font-weight="normal" >0.6</text>
<line x1="81.50" y1="584.45" x2="87.40" y2="584.45" stroke="#1a1a1a" stroke-width="1.25" />
<text transform="translate(79.20,591.35) scale(1.035,1)" font-size="21" text-anchor="end" fill="#111" font-weight="normal" >0.7</text>
<line x1="81.50" y1="510.90" x2="87.40" y2="510.90" stroke="#1a1a1a" stroke-width="1.25" />
<text transform="translate(79.20,517.80) scale(1.035,1)" font-size="21" text-anchor="end" fill="#111" font-weight="normal" >0.8</text>
<line x1="81.50" y1="437.35" x2="87.40" y2="437.35" stroke="#1a1a1a" stroke-width="1.25" />
<text transform="translate(79.20,444.25) scale(1.035,1)" font-size="21" text-anchor="end" fill="#111" font-weight="normal" >0.9</text>
<line x1="87.20" y1="694.60" x2="87.20" y2="700.00" stroke="#1a1a1a" stroke-width="1.25" />
<text transform="translate(87.20,718.80) scale(1.035,1)" font-size="21" text-anchor="middle" fill="#111" font-weight="normal" >0</text>
<line x1="132.70" y1="694.60" x2="132.70" y2="700.00" stroke="#1a1a1a" stroke-width="1.25" />
<text transform="translate(132.70,718.80) scale(1.035,1)" font-size="21" text-anchor="middle" fill="#111" font-weight="normal" >1</text>
<line x1="178.20" y1="694.60" x2="178.20" y2="700.00" stroke="#1a1a1a" stroke-width="1.25" />
<text transform="translate(178.20,718.80) scale(1.035,1)" font-size="21" text-anchor="middle" fill="#111" font-weight="normal" >2</text>
<line x1="223.70" y1="694.60" x2="223.70" y2="700.00" stroke="#1a1a1a" stroke-width="1.25" />
<text transform="translate(223.70,718.80) scale(1.035,1)" font-size="21" text-anchor="middle" fill="#111" font-weight="normal" >3</text>
<line x1="269.20" y1="694.60" x2="269.20" y2="700.00" stroke="#1a1a1a" stroke-width="1.25" />
<text transform="translate(269.20,718.80) scale(1.035,1)" font-size="21" text-anchor="middle" fill="#111" font-weight="normal" >4</text>
<line x1="314.70" y1="694.60" x2="314.70" y2="700.00" stroke="#1a1a1a" stroke-width="1.25" />
<text transform="translate(314.70,718.80) scale(1.035,1)" font-size="21" text-anchor="middle" fill="#111" font-weight="normal" >5</text>
<line x1="360.20" y1="694.60" x2="360.20" y2="700.00" stroke="#1a1a1a" stroke-width="1.25" />
<text transform="translate(360.20,718.80) scale(1.035,1)" font-size="21" text-anchor="middle" fill="#111" font-weight="normal" >6</text>
<line x1="405.70" y1="694.60" x2="405.70" y2="700.00" stroke="#1a1a1a" stroke-width="1.25" />
<text transform="translate(405.70,718.80) scale(1.035,1)" font-size="21" text-anchor="middle" fill="#111" font-weight="normal" >7</text>
<text transform="translate(249.00,742.20) scale(1.07,1)" font-size="21.5" text-anchor="middle" fill="#111" font-weight="normal" >Urea (M)</text>
<text transform="translate(42.90,576.40) scale(1.04,1) rotate(-90)" font-size="23" text-anchor="middle" fill="#111">Trp Fluorescence</text>
<polyline fill="none" stroke="#111" stroke-width="1.9" stroke-linejoin="round" points="110.0,661.7 132.7,658.0 155.4,680.1 178.2,644.8 200.9,637.4 223.7,599.9 246.4,531.5 269.2,510.9 291.9,522.7 314.7,492.5 360.2,483.0"/>
<line x1="109.95" y1="674.92" x2="109.95" y2="648.44" stroke="#222" stroke-width="1.5" />
<line x1="106.45" y1="674.92" x2="113.45" y2="674.92" stroke="#222" stroke-width="1.5" />
<line x1="106.45" y1="648.44" x2="113.45" y2="648.44" stroke="#222" stroke-width="1.5" />
<rect x="107.15" y="658.88" width="5.6" height="5.6" fill="#111"/>
<line x1="132.70" y1="671.24" x2="132.70" y2="644.76" stroke="#222" stroke-width="1.5" />
<line x1="129.20" y1="671.24" x2="136.20" y2="671.24" stroke="#222" stroke-width="1.5" />
<line x1="129.20" y1="644.76" x2="136.20" y2="644.76" stroke="#222" stroke-width="1.5" />
<rect x="129.90" y="655.20" width="5.6" height="5.6" fill="#111"/>
<line x1="155.45" y1="690.36" x2="155.45" y2="669.77" stroke="#222" stroke-width="1.5" />
<line x1="151.95" y1="690.36" x2="158.95" y2="690.36" stroke="#222" stroke-width="1.5" />
<line x1="151.95" y1="669.77" x2="158.95" y2="669.77" stroke="#222" stroke-width="1.5" />
<rect x="152.65" y="677.27" width="5.6" height="5.6" fill="#111"/>
<line x1="178.20" y1="651.38" x2="178.20" y2="638.14" stroke="#222" stroke-width="1.5" />
<line x1="174.70" y1="651.38" x2="181.70" y2="651.38" stroke="#222" stroke-width="1.5" />
<line x1="174.70" y1="638.14" x2="181.70" y2="638.14" stroke="#222" stroke-width="1.5" />
<rect x="175.40" y="641.96" width="5.6" height="5.6" fill="#111"/>
<line x1="200.95" y1="639.61" x2="200.95" y2="635.20" stroke="#222" stroke-width="1.5" />
<line x1="197.45" y1="639.61" x2="204.45" y2="639.61" stroke="#222" stroke-width="1.5" />
<line x1="197.45" y1="635.20" x2="204.45" y2="635.20" stroke="#222" stroke-width="1.5" />
<rect x="198.15" y="634.61" width="5.6" height="5.6" fill="#111"/>
<line x1="223.70" y1="610.93" x2="223.70" y2="588.86" stroke="#222" stroke-width="1.5" />
<line x1="220.20" y1="610.93" x2="227.20" y2="610.93" stroke="#222" stroke-width="1.5" />
<line x1="220.20" y1="588.86" x2="227.20" y2="588.86" stroke="#222" stroke-width="1.5" />
<rect x="220.90" y="597.10" width="5.6" height="5.6" fill="#111"/>
<line x1="246.45" y1="544.73" x2="246.45" y2="518.25" stroke="#222" stroke-width="1.5" />
<line x1="242.95" y1="544.73" x2="249.95" y2="544.73" stroke="#222" stroke-width="1.5" />
<line x1="242.95" y1="518.25" x2="249.95" y2="518.25" stroke="#222" stroke-width="1.5" />
<rect x="243.65" y="528.69" width="5.6" height="5.6" fill="#111"/>
<line x1="269.20" y1="518.25" x2="269.20" y2="503.54" stroke="#222" stroke-width="1.5" />
<line x1="265.70" y1="518.25" x2="272.70" y2="518.25" stroke="#222" stroke-width="1.5" />
<line x1="265.70" y1="503.54" x2="272.70" y2="503.54" stroke="#222" stroke-width="1.5" />
<rect x="266.40" y="508.10" width="5.6" height="5.6" fill="#111"/>
<line x1="291.95" y1="531.49" x2="291.95" y2="513.84" stroke="#222" stroke-width="1.5" />
<line x1="288.45" y1="531.49" x2="295.45" y2="531.49" stroke="#222" stroke-width="1.5" />
<line x1="288.45" y1="513.84" x2="295.45" y2="513.84" stroke="#222" stroke-width="1.5" />
<rect x="289.15" y="519.87" width="5.6" height="5.6" fill="#111"/>
<line x1="314.70" y1="521.20" x2="314.70" y2="463.83" stroke="#222" stroke-width="1.5" />
<line x1="311.20" y1="521.20" x2="318.20" y2="521.20" stroke="#222" stroke-width="1.5" />
<line x1="311.20" y1="463.83" x2="318.20" y2="463.83" stroke="#222" stroke-width="1.5" />
<rect x="311.90" y="489.71" width="5.6" height="5.6" fill="#111"/>
<line x1="360.20" y1="491.04" x2="360.20" y2="474.86" stroke="#222" stroke-width="1.5" />
<line x1="356.70" y1="491.04" x2="363.70" y2="491.04" stroke="#222" stroke-width="1.5" />
<line x1="356.70" y1="474.86" x2="363.70" y2="474.86" stroke="#222" stroke-width="1.5" />
<rect x="357.40" y="480.15" width="5.6" height="5.6" fill="#111"/>
<rect x="505.6" y="377.2" width="297.3" height="53.7" fill="#29a7e4"/>
<text transform="translate(655.70,395.50) scale(1.025,1)" font-size="22.2" text-anchor="middle" fill="#111" font-weight="normal" >Thermodynamic Stability</text>
<text transform="translate(656.70,422.30) scale(1.025,1)" font-size="22.2" text-anchor="middle" fill="#111" font-weight="normal" >(Resveratrol Binding)</text>
<line x1="495.40" y1="441.85" x2="495.40" y2="692.20" stroke="#1a1a1a" stroke-width="1.25" />
<line x1="494.80" y1="692.20" x2="811.00" y2="692.20" stroke="#1a1a1a" stroke-width="1.25" />
<line x1="490.00" y1="690.50" x2="495.40" y2="690.50" stroke="#1a1a1a" stroke-width="1.25" />
<text transform="translate(487.30,696.80) scale(1.035,1)" font-size="21" text-anchor="end" fill="#111" font-weight="normal" >0</text>
<line x1="490.00" y1="640.89" x2="495.40" y2="640.89" stroke="#1a1a1a" stroke-width="1.25" />
<text transform="translate(487.30,647.19) scale(1.035,1)" font-size="21" text-anchor="end" fill="#111" font-weight="normal" >20</text>
<line x1="490.00" y1="591.28" x2="495.40" y2="591.28" stroke="#1a1a1a" stroke-width="1.25" />
<text transform="translate(487.30,597.58) scale(1.035,1)" font-size="21" text-anchor="end" fill="#111" font-weight="normal" >40</text>
<line x1="490.00" y1="541.67" x2="495.40" y2="541.67" stroke="#1a1a1a" stroke-width="1.25" />
<text transform="translate(487.30,547.97) scale(1.035,1)" font-size="21" text-anchor="end" fill="#111" font-weight="normal" >60</text>
<line x1="490.00" y1="492.06" x2="495.40" y2="492.06" stroke="#1a1a1a" stroke-width="1.25" />
<text transform="translate(487.30,498.36) scale(1.035,1)" font-size="21" text-anchor="end" fill="#111" font-weight="normal" >80</text>
<line x1="490.00" y1="442.45" x2="495.40" y2="442.45" stroke="#1a1a1a" stroke-width="1.25" />
<text transform="translate(487.30,448.75) scale(1.035,1)" font-size="21" text-anchor="end" fill="#111" font-weight="normal" >100</text>
<line x1="495.40" y1="692.20" x2="495.40" y2="698.00" stroke="#1a1a1a" stroke-width="1.25" />
<text transform="translate(495.40,717.30) scale(1.035,1)" font-size="21" text-anchor="middle" fill="#111" font-weight="normal" >0</text>
<line x1="540.40" y1="692.20" x2="540.40" y2="698.00" stroke="#1a1a1a" stroke-width="1.25" />
<text transform="translate(540.40,717.30) scale(1.035,1)" font-size="21" text-anchor="middle" fill="#111" font-weight="normal" >1</text>
<line x1="585.40" y1="692.20" x2="585.40" y2="698.00" stroke="#1a1a1a" stroke-width="1.25" />
<text transform="translate(585.40,717.30) scale(1.035,1)" font-size="21" text-anchor="middle" fill="#111" font-weight="normal" >2</text>
<line x1="630.40" y1="692.20" x2="630.40" y2="698.00" stroke="#1a1a1a" stroke-width="1.25" />
<text transform="translate(630.40,717.30) scale(1.035,1)" font-size="21" text-anchor="middle" fill="#111" font-weight="normal" >3</text>
<line x1="675.40" y1="692.20" x2="675.40" y2="698.00" stroke="#1a1a1a" stroke-width="1.25" />
<text transform="translate(675.40,717.30) scale(1.035,1)" font-size="21" text-anchor="middle" fill="#111" font-weight="normal" >4</text>
<line x1="720.40" y1="692.20" x2="720.40" y2="698.00" stroke="#1a1a1a" stroke-width="1.25" />
<text transform="translate(720.40,717.30) scale(1.035,1)" font-size="21" text-anchor="middle" fill="#111" font-weight="normal" >5</text>
<line x1="765.40" y1="692.20" x2="765.40" y2="698.00" stroke="#1a1a1a" stroke-width="1.25" />
<text transform="translate(765.40,717.30) scale(1.035,1)" font-size="21" text-anchor="middle" fill="#111" font-weight="normal" >6</text>
<line x1="810.40" y1="692.20" x2="810.40" y2="698.00" stroke="#1a1a1a" stroke-width="1.25" />
<text transform="translate(810.40,717.30) scale(1.035,1)" font-size="21" text-anchor="middle" fill="#111" font-weight="normal" >7</text>
<text transform="translate(658.00,741.80) scale(1.07,1)" font-size="21.5" text-anchor="middle" fill="#111" font-weight="normal" >Urea (M)</text>
<text transform="translate(453.00,572.80) scale(1.04,1) rotate(-90)" font-size="23" text-anchor="middle" fill="#111">% Non Tetramer</text>
<polyline fill="none" stroke="#111" stroke-width="1.9" stroke-linejoin="round" points="517.9,621.0 540.4,658.3 562.9,648.3 585.4,690.5 630.4,571.4 652.9,467.3 675.4,464.8 720.4,454.9 765.4,442.4"/>
<rect x="515.10" y="618.25" width="5.6" height="5.6" fill="#111"/>
<rect x="537.60" y="655.45" width="5.6" height="5.6" fill="#111"/>
<rect x="560.10" y="645.53" width="5.6" height="5.6" fill="#111"/>
<rect x="582.60" y="687.70" width="5.6" height="5.6" fill="#111"/>
<rect x="627.60" y="568.64" width="5.6" height="5.6" fill="#111"/>
<rect x="650.10" y="464.45" width="5.6" height="5.6" fill="#111"/>
<rect x="672.60" y="461.97" width="5.6" height="5.6" fill="#111"/>
<rect x="717.60" y="452.05" width="5.6" height="5.6" fill="#111"/>
<rect x="762.60" y="439.65" width="5.6" height="5.6" fill="#111"/>
<rect x="99.4" y="757.8" width="297.9" height="53.5" fill="#29a7e4"/>
<text transform="translate(241.30,780.30) scale(1.025,1)" font-size="22.2" text-anchor="middle" fill="#111" font-weight="normal" >Thermodynamic Stability</text>
<text transform="translate(242.70,807.30) scale(1.025,1)" font-size="22.2" text-anchor="middle" fill="#111" font-weight="normal" >(Urea Denaturation)</text>
<line x1="87.60" y1="822.10" x2="87.60" y2="1052.80" stroke="#1a1a1a" stroke-width="1.25" />
<line x1="87.00" y1="1052.80" x2="400.00" y2="1052.80" stroke="#1a1a1a" stroke-width="1.25" />
<line x1="87.60" y1="1023.90" x2="92.90" y2="1023.90" stroke="#1a1a1a" stroke-width="1.25" />
<text transform="translate(82.80,1030.10) scale(1.0,1)" font-size="20.3" text-anchor="end" fill="#111" font-weight="normal" >0.6</text>
<line x1="87.60" y1="966.20" x2="92.90" y2="966.20" stroke="#1a1a1a" stroke-width="1.25" />
<text transform="translate(82.80,972.40) scale(1.0,1)" font-size="20.3" text-anchor="end" fill="#111" font-weight="normal" >0.7</text>
<line x1="87.60" y1="908.50" x2="92.90" y2="908.50" stroke="#1a1a1a" stroke-width="1.25" />
<text transform="translate(82.80,914.70) scale(1.0,1)" font-size="20.3" text-anchor="end" fill="#111" font-weight="normal" >0.8</text>
<line x1="87.60" y1="850.80" x2="92.90" y2="850.80" stroke="#1a1a1a" stroke-width="1.25" />
<text transform="translate(82.80,857.00) scale(1.0,1)" font-size="20.3" text-anchor="end" fill="#111" font-weight="normal" >0.9</text>
<line x1="135.85" y1="1052.80" x2="135.85" y2="1047.80" stroke="#1a1a1a" stroke-width="1.25" />
<line x1="184.10" y1="1052.80" x2="184.10" y2="1047.80" stroke="#1a1a1a" stroke-width="1.25" />
<line x1="232.35" y1="1052.80" x2="232.35" y2="1047.80" stroke="#1a1a1a" stroke-width="1.25" />
<line x1="280.60" y1="1052.80" x2="280.60" y2="1047.80" stroke="#1a1a1a" stroke-width="1.25" />
<line x1="328.85" y1="1052.80" x2="328.85" y2="1047.80" stroke="#1a1a1a" stroke-width="1.25" />
<line x1="377.10" y1="1052.80" x2="377.10" y2="1047.80" stroke="#1a1a1a" stroke-width="1.25" />
<text transform="translate(87.60,1074.40) scale(1.03,1)" font-size="20.3" text-anchor="middle" fill="#111" font-weight="normal" >0</text>
<text transform="translate(135.85,1074.40) scale(1.03,1)" font-size="20.3" text-anchor="middle" fill="#111" font-weight="normal" >1</text>
<text transform="translate(184.10,1074.40) scale(1.03,1)" font-size="20.3" text-anchor="middle" fill="#111" font-weight="normal" >2</text>
<text transform="translate(232.35,1074.40) scale(1.03,1)" font-size="20.3" text-anchor="middle" fill="#111" font-weight="normal" >3</text>
<text transform="translate(280.60,1074.40) scale(1.03,1)" font-size="20.3" text-anchor="middle" fill="#111" font-weight="normal" >4</text>
<text transform="translate(328.85,1074.40) scale(1.03,1)" font-size="20.3" text-anchor="middle" fill="#111" font-weight="normal" >5</text>
<text transform="translate(377.10,1074.40) scale(1.03,1)" font-size="20.3" text-anchor="middle" fill="#111" font-weight="normal" >6</text>
<text transform="translate(243.00,1094.70) scale(1.07,1)" font-size="21.5" text-anchor="middle" fill="#111" font-weight="normal" >Urea (M)</text>
<text transform="translate(41.50,944.50) scale(1.04,1) rotate(-90)" font-size="23" text-anchor="middle" fill="#111">I<tspan font-size="12.5" dy="6">355</tspan><tspan dy="-6"> / I</tspan><tspan font-size="12.5" dy="6">335</tspan></text>
<clipPath id="cD"><rect x="87" y="815" width="320" height="238"/></clipPath><g clip-path="url(#cD)">
<polyline fill="none" stroke="#8a8a8a" stroke-width="2.2" stroke-linejoin="round" points="111.7,1034.1 114.5,1034.0 117.2,1034.0 120.0,1033.9 122.8,1033.8 125.5,1033.7 128.3,1033.6 131.0,1033.4 133.8,1033.3 136.5,1033.0 139.3,1032.7 142.1,1032.4 144.8,1032.0 147.6,1031.4 150.3,1030.8 153.1,1030.1 155.8,1029.1 158.6,1028.0 161.4,1026.6 164.1,1025.0 166.9,1023.1 169.6,1020.8 172.4,1018.1 175.1,1015.0 177.9,1011.3 180.7,1007.2 183.4,1002.5 186.2,997.3 188.9,991.6 191.7,985.5 194.4,979.1 197.2,972.4 200.0,965.7 202.7,959.1 205.5,952.7 208.2,946.6 211.0,940.9 213.7,935.7 216.5,931.0 219.3,926.9 222.0,923.2 224.8,920.1 227.5,917.4 230.3,915.1 233.0,913.1 235.8,911.5 238.6,910.2 241.3,909.0 244.1,908.1 246.8,907.4 249.6,906.7 252.3,906.2 255.1,905.8 257.9,905.4 260.6,905.1 263.4,904.9 266.1,904.7 268.9,904.6 271.6,904.4 274.4,904.3 277.2,904.3 279.9,904.2 282.7,904.1 285.4,904.1 288.2,904.0 290.9,904.0 293.7,904.0 296.5,904.0 299.2,904.0 302.0,903.9 304.7,903.9"/>
<polyline fill="none" stroke="#ee1c25" stroke-width="2.2" stroke-linejoin="round" points="160.0,1035.4 163.1,1035.4 166.2,1035.4 169.3,1035.3 172.4,1035.3 175.5,1035.2 178.6,1035.1 181.7,1034.9 184.8,1034.6 187.9,1034.2 191.0,1033.5 194.1,1032.6 197.2,1031.2 200.3,1029.0 203.4,1026.0 206.5,1021.6 209.6,1015.7 212.7,1007.7 215.8,997.8 218.9,986.3 222.0,973.7 225.1,961.3 228.2,950.0 231.3,940.4 234.4,932.9 237.5,927.2 240.6,923.1 243.7,920.2 246.8,918.3 249.9,916.9 253.0,916.0 256.1,915.4 259.2,915.0 262.3,914.8 265.4,914.6 268.5,914.5 271.6,914.4 274.7,914.4 277.8,914.3 280.9,914.3 284.0,914.3 287.1,914.3 290.2,914.3 293.4,914.3 296.5,914.3 299.6,914.3 302.7,914.3 305.8,914.3 308.9,914.3 312.0,914.3 315.1,914.3 318.2,914.3 321.3,914.3 324.4,914.3 327.5,914.3 330.6,914.3 333.7,914.3 336.8,914.3 339.9,914.3 343.0,914.3 346.1,914.3 349.2,914.3 352.3,914.3 355.4,914.3 358.5,914.3 361.6,914.3 364.7,914.3 367.8,914.3 370.9,914.3 374.0,914.3 377.1,914.3"/>
<polyline fill="none" stroke="#111" stroke-width="2.2" stroke-linejoin="round" points="111.7,1030.8 115.5,1030.8 119.3,1030.8 123.1,1030.8 126.9,1030.8 130.7,1030.8 134.5,1030.8 138.3,1030.8 142.1,1030.8 145.8,1030.8 149.6,1030.8 153.4,1030.8 157.2,1030.7 161.0,1030.7 164.8,1030.7 168.6,1030.6 172.4,1030.6 176.2,1030.5 180.0,1030.3 183.8,1030.2 187.5,1029.9 191.3,1029.6 195.1,1029.2 198.9,1028.6 202.7,1027.8 206.5,1026.7 210.3,1025.3 214.1,1023.4 217.9,1020.9 221.7,1017.6 225.5,1013.4 229.2,1007.9 233.0,1001.1 236.8,992.8 240.6,982.9 244.4,971.6 248.2,959.1 252.0,945.9 255.8,932.6 259.6,919.8 263.4,908.1 267.2,897.7 270.9,888.8 274.7,881.5 278.5,875.7 282.3,871.0 286.1,867.5 289.9,864.7 293.7,862.6 297.5,861.1 301.3,859.9 305.1,859.0 308.9,858.4 312.7,857.9 316.4,857.6 320.2,857.3 324.0,857.1 327.8,857.0 331.6,856.9 335.4,856.8 339.2,856.7 343.0,856.7 346.8,856.7 350.6,856.6 354.4,856.6 358.1,856.6 361.9,856.6 365.7,856.6 369.5,856.6 373.3,856.6 377.1,856.6"/>
<line x1="111.72" y1="1035.44" x2="111.72" y2="1030.82" stroke="#8a8a8a" stroke-width="1.5" />
<line x1="108.72" y1="1035.44" x2="114.72" y2="1035.44" stroke="#8a8a8a" stroke-width="1.5" />
<line x1="108.72" y1="1030.82" x2="114.72" y2="1030.82" stroke="#8a8a8a" stroke-width="1.5" />
<rect x="108.82" y="1030.23" width="5.8" height="5.8" fill="#8a8a8a"/>
<line x1="135.85" y1="1051.60" x2="135.85" y2="1030.82" stroke="#8a8a8a" stroke-width="1.5" />
<line x1="132.85" y1="1051.60" x2="138.85" y2="1051.60" stroke="#8a8a8a" stroke-width="1.5" />
<line x1="132.85" y1="1030.82" x2="138.85" y2="1030.82" stroke="#8a8a8a" stroke-width="1.5" />
<rect x="132.95" y="1038.31" width="5.8" height="5.8" fill="#8a8a8a"/>
<line x1="159.97" y1="1029.67" x2="159.97" y2="1018.13" stroke="#8a8a8a" stroke-width="1.5" />
<line x1="156.97" y1="1029.67" x2="162.97" y2="1029.67" stroke="#8a8a8a" stroke-width="1.5" />
<line x1="156.97" y1="1018.13" x2="162.97" y2="1018.13" stroke="#8a8a8a" stroke-width="1.5" />
<rect x="157.07" y="1021.00" width="5.8" height="5.8" fill="#8a8a8a"/>
<line x1="184.10" y1="1001.97" x2="184.10" y2="978.89" stroke="#8a8a8a" stroke-width="1.5" />
<line x1="181.10" y1="1001.97" x2="187.10" y2="1001.97" stroke="#8a8a8a" stroke-width="1.5" />
<line x1="181.10" y1="978.89" x2="187.10" y2="978.89" stroke="#8a8a8a" stroke-width="1.5" />
<rect x="181.20" y="987.53" width="5.8" height="5.8" fill="#8a8a8a"/>
<line x1="208.22" y1="948.89" x2="208.22" y2="937.35" stroke="#8a8a8a" stroke-width="1.5" />
<line x1="205.22" y1="948.89" x2="211.22" y2="948.89" stroke="#8a8a8a" stroke-width="1.5" />
<line x1="205.22" y1="937.35" x2="211.22" y2="937.35" stroke="#8a8a8a" stroke-width="1.5" />
<rect x="205.32" y="940.22" width="5.8" height="5.8" fill="#8a8a8a"/>
<line x1="232.35" y1="917.73" x2="232.35" y2="908.50" stroke="#8a8a8a" stroke-width="1.5" />
<line x1="229.35" y1="917.73" x2="235.35" y2="917.73" stroke="#8a8a8a" stroke-width="1.5" />
<line x1="229.35" y1="908.50" x2="235.35" y2="908.50" stroke="#8a8a8a" stroke-width="1.5" />
<rect x="229.45" y="910.22" width="5.8" height="5.8" fill="#8a8a8a"/>
<line x1="256.48" y1="911.38" x2="256.48" y2="886.00" stroke="#8a8a8a" stroke-width="1.5" />
<line x1="253.48" y1="911.38" x2="259.48" y2="911.38" stroke="#8a8a8a" stroke-width="1.5" />
<line x1="253.48" y1="886.00" x2="259.48" y2="886.00" stroke="#8a8a8a" stroke-width="1.5" />
<rect x="253.58" y="895.79" width="5.8" height="5.8" fill="#8a8a8a"/>
<line x1="304.73" y1="896.96" x2="304.73" y2="886.57" stroke="#8a8a8a" stroke-width="1.5" />
<line x1="301.73" y1="896.96" x2="307.73" y2="896.96" stroke="#8a8a8a" stroke-width="1.5" />
<line x1="301.73" y1="886.57" x2="307.73" y2="886.57" stroke="#8a8a8a" stroke-width="1.5" />
<rect x="301.83" y="888.87" width="5.8" height="5.8" fill="#8a8a8a"/>
<line x1="159.97" y1="1051.02" x2="159.97" y2="1022.17" stroke="#ee1c25" stroke-width="1.5" />
<line x1="156.97" y1="1051.02" x2="162.97" y2="1051.02" stroke="#ee1c25" stroke-width="1.5" />
<line x1="156.97" y1="1022.17" x2="162.97" y2="1022.17" stroke="#ee1c25" stroke-width="1.5" />
<rect x="157.07" y="1033.69" width="5.8" height="5.8" fill="#ee1c25"/>
<line x1="184.10" y1="1040.06" x2="184.10" y2="1019.28" stroke="#ee1c25" stroke-width="1.5" />
<line x1="181.10" y1="1040.06" x2="187.10" y2="1040.06" stroke="#ee1c25" stroke-width="1.5" />
<line x1="181.10" y1="1019.28" x2="187.10" y2="1019.28" stroke="#ee1c25" stroke-width="1.5" />
<rect x="181.20" y="1026.77" width="5.8" height="5.8" fill="#ee1c25"/>
<line x1="208.22" y1="1018.71" x2="208.22" y2="1009.47" stroke="#ee1c25" stroke-width="1.5" />
<line x1="205.22" y1="1018.71" x2="211.22" y2="1018.71" stroke="#ee1c25" stroke-width="1.5" />
<line x1="205.22" y1="1009.47" x2="211.22" y2="1009.47" stroke="#ee1c25" stroke-width="1.5" />
<rect x="205.32" y="1011.19" width="5.8" height="5.8" fill="#ee1c25"/>
<line x1="232.35" y1="944.85" x2="232.35" y2="937.93" stroke="#ee1c25" stroke-width="1.5" />
<line x1="229.35" y1="944.85" x2="235.35" y2="944.85" stroke="#ee1c25" stroke-width="1.5" />
<line x1="229.35" y1="937.93" x2="235.35" y2="937.93" stroke="#ee1c25" stroke-width="1.5" />
<rect x="229.45" y="938.49" width="5.8" height="5.8" fill="#ee1c25"/>
<line x1="256.48" y1="946.00" x2="256.48" y2="931.00" stroke="#ee1c25" stroke-width="1.5" />
<line x1="253.48" y1="946.00" x2="259.48" y2="946.00" stroke="#ee1c25" stroke-width="1.5" />
<line x1="253.48" y1="931.00" x2="259.48" y2="931.00" stroke="#ee1c25" stroke-width="1.5" />
<rect x="253.58" y="935.60" width="5.8" height="5.8" fill="#ee1c25"/>
<line x1="280.60" y1="928.12" x2="280.60" y2="907.35" stroke="#ee1c25" stroke-width="1.5" />
<line x1="277.60" y1="928.12" x2="283.60" y2="928.12" stroke="#ee1c25" stroke-width="1.5" />
<line x1="277.60" y1="907.35" x2="283.60" y2="907.35" stroke="#ee1c25" stroke-width="1.5" />
<rect x="277.70" y="914.83" width="5.8" height="5.8" fill="#ee1c25"/>
<line x1="304.73" y1="916.58" x2="304.73" y2="907.35" stroke="#ee1c25" stroke-width="1.5" />
<line x1="301.73" y1="916.58" x2="307.73" y2="916.58" stroke="#ee1c25" stroke-width="1.5" />
<line x1="301.73" y1="907.35" x2="307.73" y2="907.35" stroke="#ee1c25" stroke-width="1.5" />
<rect x="301.83" y="909.06" width="5.8" height="5.8" fill="#ee1c25"/>
<line x1="328.85" y1="926.39" x2="328.85" y2="897.54" stroke="#ee1c25" stroke-width="1.5" />
<line x1="325.85" y1="926.39" x2="331.85" y2="926.39" stroke="#ee1c25" stroke-width="1.5" />
<line x1="325.85" y1="897.54" x2="331.85" y2="897.54" stroke="#ee1c25" stroke-width="1.5" />
<rect x="325.95" y="909.06" width="5.8" height="5.8" fill="#ee1c25"/>
<line x1="377.10" y1="917.73" x2="377.10" y2="896.96" stroke="#ee1c25" stroke-width="1.5" />
<line x1="374.10" y1="917.73" x2="380.10" y2="917.73" stroke="#ee1c25" stroke-width="1.5" />
<line x1="374.10" y1="896.96" x2="380.10" y2="896.96" stroke="#ee1c25" stroke-width="1.5" />
<rect x="374.20" y="904.45" width="5.8" height="5.8" fill="#ee1c25"/>
<line x1="111.72" y1="1029.09" x2="111.72" y2="1015.25" stroke="#111" stroke-width="1.5" />
<line x1="108.72" y1="1029.09" x2="114.72" y2="1029.09" stroke="#111" stroke-width="1.5" />
<line x1="108.72" y1="1015.25" x2="114.72" y2="1015.25" stroke="#111" stroke-width="1.5" />
<rect x="108.82" y="1019.27" width="5.8" height="5.8" fill="#111"/>
<line x1="135.85" y1="1038.90" x2="135.85" y2="1015.82" stroke="#111" stroke-width="1.5" />
<line x1="132.85" y1="1038.90" x2="138.85" y2="1038.90" stroke="#111" stroke-width="1.5" />
<line x1="132.85" y1="1015.82" x2="138.85" y2="1015.82" stroke="#111" stroke-width="1.5" />
<rect x="132.95" y="1024.46" width="5.8" height="5.8" fill="#111"/>
<line x1="159.97" y1="1029.09" x2="159.97" y2="1011.78" stroke="#111" stroke-width="1.5" />
<line x1="156.97" y1="1029.09" x2="162.97" y2="1029.09" stroke="#111" stroke-width="1.5" />
<line x1="156.97" y1="1011.78" x2="162.97" y2="1011.78" stroke="#111" stroke-width="1.5" />
<rect x="157.07" y="1017.54" width="5.8" height="5.8" fill="#111"/>
<line x1="184.10" y1="1034.86" x2="184.10" y2="1029.09" stroke="#111" stroke-width="1.5" />
<line x1="181.10" y1="1034.86" x2="187.10" y2="1034.86" stroke="#111" stroke-width="1.5" />
<line x1="181.10" y1="1029.09" x2="187.10" y2="1029.09" stroke="#111" stroke-width="1.5" />
<rect x="181.20" y="1029.08" width="5.8" height="5.8" fill="#111"/>
<line x1="208.22" y1="1032.56" x2="208.22" y2="1017.55" stroke="#111" stroke-width="1.5" />
<line x1="205.22" y1="1032.56" x2="211.22" y2="1032.56" stroke="#111" stroke-width="1.5" />
<line x1="205.22" y1="1017.55" x2="211.22" y2="1017.55" stroke="#111" stroke-width="1.5" />
<rect x="205.32" y="1022.15" width="5.8" height="5.8" fill="#111"/>
<line x1="232.35" y1="1007.17" x2="232.35" y2="997.93" stroke="#111" stroke-width="1.5" />
<line x1="229.35" y1="1007.17" x2="235.35" y2="1007.17" stroke="#111" stroke-width="1.5" />
<line x1="229.35" y1="997.93" x2="235.35" y2="997.93" stroke="#111" stroke-width="1.5" />
<rect x="229.45" y="999.65" width="5.8" height="5.8" fill="#111"/>
<line x1="256.48" y1="943.12" x2="256.48" y2="925.81" stroke="#111" stroke-width="1.5" />
<line x1="253.48" y1="943.12" x2="259.48" y2="943.12" stroke="#111" stroke-width="1.5" />
<line x1="253.48" y1="925.81" x2="259.48" y2="925.81" stroke="#111" stroke-width="1.5" />
<rect x="253.58" y="931.56" width="5.8" height="5.8" fill="#111"/>
<line x1="280.60" y1="891.19" x2="280.60" y2="868.11" stroke="#111" stroke-width="1.5" />
<line x1="277.60" y1="891.19" x2="283.60" y2="891.19" stroke="#111" stroke-width="1.5" />
<line x1="277.60" y1="868.11" x2="283.60" y2="868.11" stroke="#111" stroke-width="1.5" />
<rect x="277.70" y="876.75" width="5.8" height="5.8" fill="#111"/>
<line x1="304.73" y1="878.50" x2="304.73" y2="849.65" stroke="#111" stroke-width="1.5" />
<line x1="301.73" y1="878.50" x2="307.73" y2="878.50" stroke="#111" stroke-width="1.5" />
<line x1="301.73" y1="849.65" x2="307.73" y2="849.65" stroke="#111" stroke-width="1.5" />
<rect x="301.83" y="861.17" width="5.8" height="5.8" fill="#111"/>
<line x1="328.85" y1="875.61" x2="328.85" y2="860.61" stroke="#111" stroke-width="1.5" />
<line x1="325.85" y1="875.61" x2="331.85" y2="875.61" stroke="#111" stroke-width="1.5" />
<line x1="325.85" y1="860.61" x2="331.85" y2="860.61" stroke="#111" stroke-width="1.5" />
<rect x="325.95" y="865.21" width="5.8" height="5.8" fill="#111"/>
<line x1="377.10" y1="857.15" x2="377.10" y2="853.68" stroke="#111" stroke-width="1.5" />
<line x1="374.10" y1="857.15" x2="380.10" y2="857.15" stroke="#111" stroke-width="1.5" />
<line x1="374.10" y1="853.68" x2="380.10" y2="853.68" stroke="#111" stroke-width="1.5" />
<rect x="374.20" y="852.52" width="5.8" height="5.8" fill="#111"/>
</g>
<text transform="translate(262.00,1132.90) scale(1.035,1)" font-size="21.6" text-anchor="start" fill="#111" font-weight="normal" >C</text>
<text transform="translate(278.50,1140.50) scale(1.05,1)" font-size="13" text-anchor="start" fill="#111" font-weight="normal" >m</text>
<text transform="translate(294.00,1132.90) scale(1.035,1)" font-size="21.6" text-anchor="start" fill="#111" font-weight="normal" >(M)</text>
<line x1="164.60" y1="1151.60" x2="173.60" y2="1151.60" stroke="#6a6a6a" stroke-width="2.4" />
<text transform="translate(176.20,1158.80) scale(1.08,1)" font-size="21" text-anchor="start" fill="#6a6a6a" font-weight="normal" >L55P</text>
<text transform="translate(298.30,1158.80) scale(1.035,1)" font-size="21.2" text-anchor="middle" fill="#6a6a6a" font-weight="normal" >2.3</text>
<line x1="164.60" y1="1180.30" x2="173.60" y2="1180.30" stroke="#ee1c25" stroke-width="2.4" />
<text transform="translate(176.20,1187.50) scale(1.08,1)" font-size="21" text-anchor="start" fill="#ee1c25" font-weight="normal" >D39Y</text>
<text transform="translate(295.70,1187.50) scale(1.035,1)" font-size="21.2" text-anchor="middle" fill="#ee1c25" font-weight="normal" >2.8</text>
<line x1="164.60" y1="1208.10" x2="173.60" y2="1208.10" stroke="#111" stroke-width="2.4" />
<text transform="translate(176.20,1215.30) scale(1.08,1)" font-size="21" text-anchor="start" fill="#111" font-weight="normal" >WT</text>
<text transform="translate(293.10,1215.30) scale(1.035,1)" font-size="21.2" text-anchor="middle" fill="#111" font-weight="normal" >3.4</text>
<rect x="505.6" y="757.8" width="297.3" height="53.5" fill="#29a7e4"/>
<text transform="translate(656.60,777.30) scale(1.025,1)" font-size="22.2" text-anchor="middle" fill="#111" font-weight="normal" >Thermodynamic Stability</text>
<text transform="translate(659.70,804.90) scale(1.025,1)" font-size="22.2" text-anchor="middle" fill="#111" font-weight="normal" >(Thermal Shift Assay)</text>
<line x1="497.50" y1="813.70" x2="497.50" y2="1047.60" stroke="#1a1a1a" stroke-width="1.25" />
<line x1="496.90" y1="1047.60" x2="814.00" y2="1047.60" stroke="#1a1a1a" stroke-width="1.25" />
<line x1="497.50" y1="1018.40" x2="502.50" y2="1018.40" stroke="#1a1a1a" stroke-width="1.25" />
<text transform="translate(492.00,1024.50) scale(1.0,1)" font-size="20.3" text-anchor="end" fill="#111" font-weight="normal" >0.4</text>
<line x1="497.50" y1="960.00" x2="502.50" y2="960.00" stroke="#1a1a1a" stroke-width="1.25" />
<text transform="translate(492.00,966.10) scale(1.0,1)" font-size="20.3" text-anchor="end" fill="#111" font-weight="normal" >0.8</text>
<line x1="497.50" y1="901.60" x2="502.50" y2="901.60" stroke="#1a1a1a" stroke-width="1.25" />
<text transform="translate(492.00,907.70) scale(1.0,1)" font-size="20.3" text-anchor="end" fill="#111" font-weight="normal" >1.2</text>
<line x1="497.50" y1="843.20" x2="502.50" y2="843.20" stroke="#1a1a1a" stroke-width="1.25" />
<text transform="translate(492.00,849.30) scale(1.0,1)" font-size="20.3" text-anchor="end" fill="#111" font-weight="normal" >1.6</text>
<line x1="546.40" y1="1047.60" x2="546.40" y2="1042.80" stroke="#1a1a1a" stroke-width="1.25" />
<line x1="595.30" y1="1047.60" x2="595.30" y2="1042.80" stroke="#1a1a1a" stroke-width="1.25" />
<line x1="644.20" y1="1047.60" x2="644.20" y2="1042.80" stroke="#1a1a1a" stroke-width="1.25" />
<line x1="693.10" y1="1047.60" x2="693.10" y2="1042.80" stroke="#1a1a1a" stroke-width="1.25" />
<line x1="742.00" y1="1047.60" x2="742.00" y2="1042.80" stroke="#1a1a1a" stroke-width="1.25" />
<line x1="790.90" y1="1047.60" x2="790.90" y2="1042.80" stroke="#1a1a1a" stroke-width="1.25" />
<text transform="translate(497.50,1068.60) scale(1.03,1)" font-size="20" text-anchor="middle" fill="#111" font-weight="normal" >310</text>
<text transform="translate(546.40,1068.60) scale(1.03,1)" font-size="20" text-anchor="middle" fill="#111" font-weight="normal" >320</text>
<text transform="translate(595.30,1068.60) scale(1.03,1)" font-size="20" text-anchor="middle" fill="#111" font-weight="normal" >330</text>
<text transform="translate(644.20,1068.60) scale(1.03,1)" font-size="20" text-anchor="middle" fill="#111" font-weight="normal" >340</text>
<text transform="translate(693.10,1068.60) scale(1.03,1)" font-size="20" text-anchor="middle" fill="#111" font-weight="normal" >350</text>
<text transform="translate(742.00,1068.60) scale(1.03,1)" font-size="20" text-anchor="middle" fill="#111" font-weight="normal" >360</text>
<text transform="translate(790.90,1068.60) scale(1.03,1)" font-size="20" text-anchor="middle" fill="#111" font-weight="normal" >370</text>
<text transform="translate(630.20,1095.00) scale(1.0,1)" font-size="21.5" text-anchor="start" fill="#111" font-weight="normal" >T</text>
<text transform="translate(647.50,1095.00) scale(1.0,1)" font-size="21.5" text-anchor="start" fill="#111" font-weight="normal" >(K)</text>
<text transform="translate(455.80,937.00) scale(1.04,1) rotate(-90)" font-size="22.3" text-anchor="middle" fill="#111">OD330 (a.u.)</text>
<polyline fill="none" stroke="#8a8a8a" stroke-width="2.2" stroke-linejoin="round" points="512.2,1022.8 515.7,1022.8 519.2,1022.8 522.6,1022.8 526.1,1022.8 529.6,1022.8 533.1,1022.8 536.6,1022.8 540.1,1022.8 543.6,1022.8 547.1,1022.8 550.6,1022.8 554.1,1022.8 557.6,1022.8 561.1,1022.8 564.6,1022.8 568.1,1022.8 571.5,1022.8 575.0,1022.8 578.5,1022.8 582.0,1022.8 585.5,1022.7 589.0,1022.7 592.5,1022.6 596.0,1022.5 599.5,1022.3 603.0,1021.8 606.5,1021.1 610.0,1019.7 613.5,1017.2 617.0,1012.7 620.4,1005.1 623.9,992.7 627.4,974.1 630.9,949.4 634.4,921.4 637.9,894.8 641.4,873.3 644.9,858.3 648.4,848.8 651.9,843.2 655.4,839.9 658.9,838.1 662.4,837.1 665.9,836.6 669.3,836.3 672.8,836.1 676.3,836.0 679.8,836.0 683.3,835.9 686.8,835.9 690.3,835.9 693.8,835.9 697.3,835.9 700.8,835.9 704.3,835.9 707.8,835.9 711.3,835.9 714.8,835.9 718.2,835.9 721.7,835.9 725.2,835.9 728.7,835.9 732.2,835.9 735.7,835.9 739.2,835.9 742.7,835.9 746.2,835.9 749.7,835.9 753.2,835.9 756.7,835.9"/>
<polyline fill="none" stroke="#ee1c25" stroke-width="2.2" stroke-linejoin="round" points="512.2,1018.1 515.7,1018.8 519.2,1019.4 522.6,1019.9 526.1,1020.3 529.6,1020.6 533.1,1020.9 536.6,1021.1 540.1,1021.3 543.6,1021.4 547.1,1021.5 550.6,1021.6 554.1,1021.7 557.6,1021.7 561.1,1021.6 564.6,1021.6 568.1,1021.5 571.5,1021.3 575.0,1021.1 578.5,1020.8 582.0,1020.5 585.5,1020.1 589.0,1019.5 592.5,1018.8 596.0,1018.0 599.5,1016.9 603.0,1015.6 606.5,1013.9 610.0,1012.0 613.5,1009.5 617.0,1006.6 620.4,1003.1 623.9,998.8 627.4,993.9 630.9,988.0 634.4,981.3 637.9,973.7 641.4,965.2 644.9,955.9 648.4,946.0 651.9,935.6 655.4,925.0 658.9,914.4 662.4,904.1 665.9,894.3 669.3,885.2 672.8,876.9 676.3,869.5 679.8,863.0 683.3,857.4 686.8,852.6 690.3,848.6 693.8,845.2 697.3,842.4 700.8,840.0 704.3,838.1 707.8,836.6 711.3,835.3 714.8,834.3 718.2,833.5 721.7,832.8 725.2,832.3 728.7,831.8 732.2,831.5 735.7,831.2 739.2,831.0 742.7,830.8 746.2,830.7 749.7,830.5 753.2,830.4 756.7,830.4"/>
<polyline fill="none" stroke="#111" stroke-width="2.2" stroke-linejoin="round" points="512.2,1033.7 516.0,1033.7 519.9,1033.7 523.7,1033.7 527.5,1033.7 531.4,1033.7 535.2,1033.7 539.1,1033.7 542.9,1033.7 546.7,1033.7 550.6,1033.7 554.4,1033.7 558.3,1033.7 562.1,1033.6 566.0,1033.6 569.8,1033.6 573.6,1033.5 577.5,1033.5 581.3,1033.4 585.2,1033.4 589.0,1033.3 592.9,1033.2 596.7,1033.0 600.5,1032.9 604.4,1032.7 608.2,1032.4 612.1,1032.1 615.9,1031.7 619.8,1031.2 623.6,1030.7 627.4,1029.9 631.3,1029.0 635.1,1027.9 639.0,1026.6 642.8,1025.0 646.6,1023.0 650.5,1020.5 654.3,1017.6 658.2,1014.1 662.0,1010.0 665.9,1005.1 669.7,999.4 673.5,992.9 677.4,985.5 681.2,977.2 685.1,968.2 688.9,958.6 692.8,948.4 696.6,938.0 700.4,927.6 704.3,917.3 708.1,907.6 712.0,898.4 715.8,890.0 719.6,882.4 723.5,875.7 727.3,869.8 731.2,864.7 735.0,860.4 738.9,856.8 742.7,853.8 746.5,851.2 750.4,849.2 754.2,847.4 758.1,846.0 761.9,844.9 765.8,844.0 769.6,843.2 773.4,842.6 777.3,842.1 781.1,841.7"/>
<rect x="509.27" y="1019.15" width="5.8" height="5.8" fill="#8a8a8a"/>
<rect x="558.17" y="1008.20" width="5.8" height="5.8" fill="#8a8a8a"/>
<rect x="607.07" y="992.87" width="5.8" height="5.8" fill="#8a8a8a"/>
<rect x="621.74" y="979.00" width="5.8" height="5.8" fill="#8a8a8a"/>
<rect x="636.41" y="881.18" width="5.8" height="5.8" fill="#8a8a8a"/>
<rect x="655.97" y="843.95" width="5.8" height="5.8" fill="#8a8a8a"/>
<rect x="753.77" y="833.00" width="5.8" height="5.8" fill="#8a8a8a"/>
<rect x="509.27" y="1029.37" width="5.8" height="5.8" fill="#ee1c25"/>
<rect x="558.17" y="1014.77" width="5.8" height="5.8" fill="#ee1c25"/>
<rect x="607.07" y="1000.90" width="5.8" height="5.8" fill="#ee1c25"/>
<rect x="655.97" y="960.75" width="5.8" height="5.8" fill="#ee1c25"/>
<rect x="670.64" y="920.60" width="5.8" height="5.8" fill="#ee1c25"/>
<rect x="685.31" y="843.22" width="5.8" height="5.8" fill="#ee1c25"/>
<rect x="704.87" y="837.38" width="5.8" height="5.8" fill="#ee1c25"/>
<rect x="753.77" y="827.16" width="5.8" height="5.8" fill="#ee1c25"/>
<rect x="509.27" y="1033.75" width="5.8" height="5.8" fill="#111"/>
<rect x="558.17" y="1023.53" width="5.8" height="5.8" fill="#111"/>
<rect x="607.07" y="1022.07" width="5.8" height="5.8" fill="#111"/>
<rect x="655.97" y="1007.47" width="5.8" height="5.8" fill="#111"/>
<rect x="685.31" y="955.64" width="5.8" height="5.8" fill="#111"/>
<rect x="704.87" y="894.32" width="5.8" height="5.8" fill="#111"/>
<rect x="729.32" y="869.50" width="5.8" height="5.8" fill="#111"/>
<rect x="753.77" y="849.06" width="5.8" height="5.8" fill="#111"/>
<rect x="763.55" y="843.22" width="5.8" height="5.8" fill="#111"/>
<rect x="778.22" y="838.11" width="5.8" height="5.8" fill="#111"/>
<line x1="732.22" y1="882.62" x2="732.22" y2="862.18" stroke="#111" stroke-width="1.2" />
<line x1="729.72" y1="882.62" x2="734.72" y2="882.62" stroke="#111" stroke-width="1.2" />
<line x1="729.72" y1="862.18" x2="734.72" y2="862.18" stroke="#111" stroke-width="1.2" />
<line x1="688.21" y1="962.92" x2="688.21" y2="954.16" stroke="#111" stroke-width="1.2" />
<line x1="686.21" y1="962.92" x2="690.21" y2="962.92" stroke="#111" stroke-width="1.2" />
<line x1="686.21" y1="954.16" x2="690.21" y2="954.16" stroke="#111" stroke-width="1.2" />
<line x1="639.31" y1="888.46" x2="639.31" y2="879.70" stroke="#8a8a8a" stroke-width="1.2" />
<line x1="637.31" y1="888.46" x2="641.31" y2="888.46" stroke="#8a8a8a" stroke-width="1.2" />
<line x1="637.31" y1="879.70" x2="641.31" y2="879.70" stroke="#8a8a8a" stroke-width="1.2" />
<line x1="624.64" y1="986.28" x2="624.64" y2="976.06" stroke="#8a8a8a" stroke-width="1.2" />
<line x1="622.64" y1="986.28" x2="626.64" y2="986.28" stroke="#8a8a8a" stroke-width="1.2" />
<line x1="622.64" y1="976.06" x2="626.64" y2="976.06" stroke="#8a8a8a" stroke-width="1.2" />
<text transform="translate(676.70,1125.30) scale(1.035,1)" font-size="21.6" text-anchor="start" fill="#111" font-weight="normal" >T</text>
<text transform="translate(690.80,1132.80) scale(1.05,1)" font-size="13" text-anchor="start" fill="#111" font-weight="normal" >m</text>
<text transform="translate(706.30,1125.30) scale(1.035,1)" font-size="21.6" text-anchor="start" fill="#111" font-weight="normal" >(K)</text>
<line x1="580.70" y1="1146.80" x2="589.60" y2="1146.80" stroke="#6a6a6a" stroke-width="2.4" />
<text transform="translate(592.00,1154.00) scale(1.08,1)" font-size="21" text-anchor="start" fill="#6a6a6a" font-weight="normal" >L55P</text>
<text transform="translate(707.60,1154.00) scale(1.035,1)" font-size="21.4" text-anchor="middle" fill="#6a6a6a" font-weight="normal" >337.8</text>
<line x1="580.70" y1="1174.10" x2="589.60" y2="1174.10" stroke="#ee1c25" stroke-width="2.4" />
<text transform="translate(592.00,1181.30) scale(1.08,1)" font-size="21" text-anchor="start" fill="#ee1c25" font-weight="normal" >D39Y</text>
<text transform="translate(711.70,1181.30) scale(1.035,1)" font-size="21.4" text-anchor="middle" fill="#ee1c25" font-weight="normal" >341.8</text>
<line x1="580.70" y1="1201.60" x2="589.60" y2="1201.60" stroke="#111" stroke-width="2.4" />
<text transform="translate(592.00,1208.80) scale(1.08,1)" font-size="21" text-anchor="start" fill="#111" font-weight="normal" >WT</text>
<text transform="translate(708.20,1208.80) scale(1.035,1)" font-size="21.4" text-anchor="middle" fill="#111" font-weight="normal" >351.1</text>
</svg>
</body></html>
